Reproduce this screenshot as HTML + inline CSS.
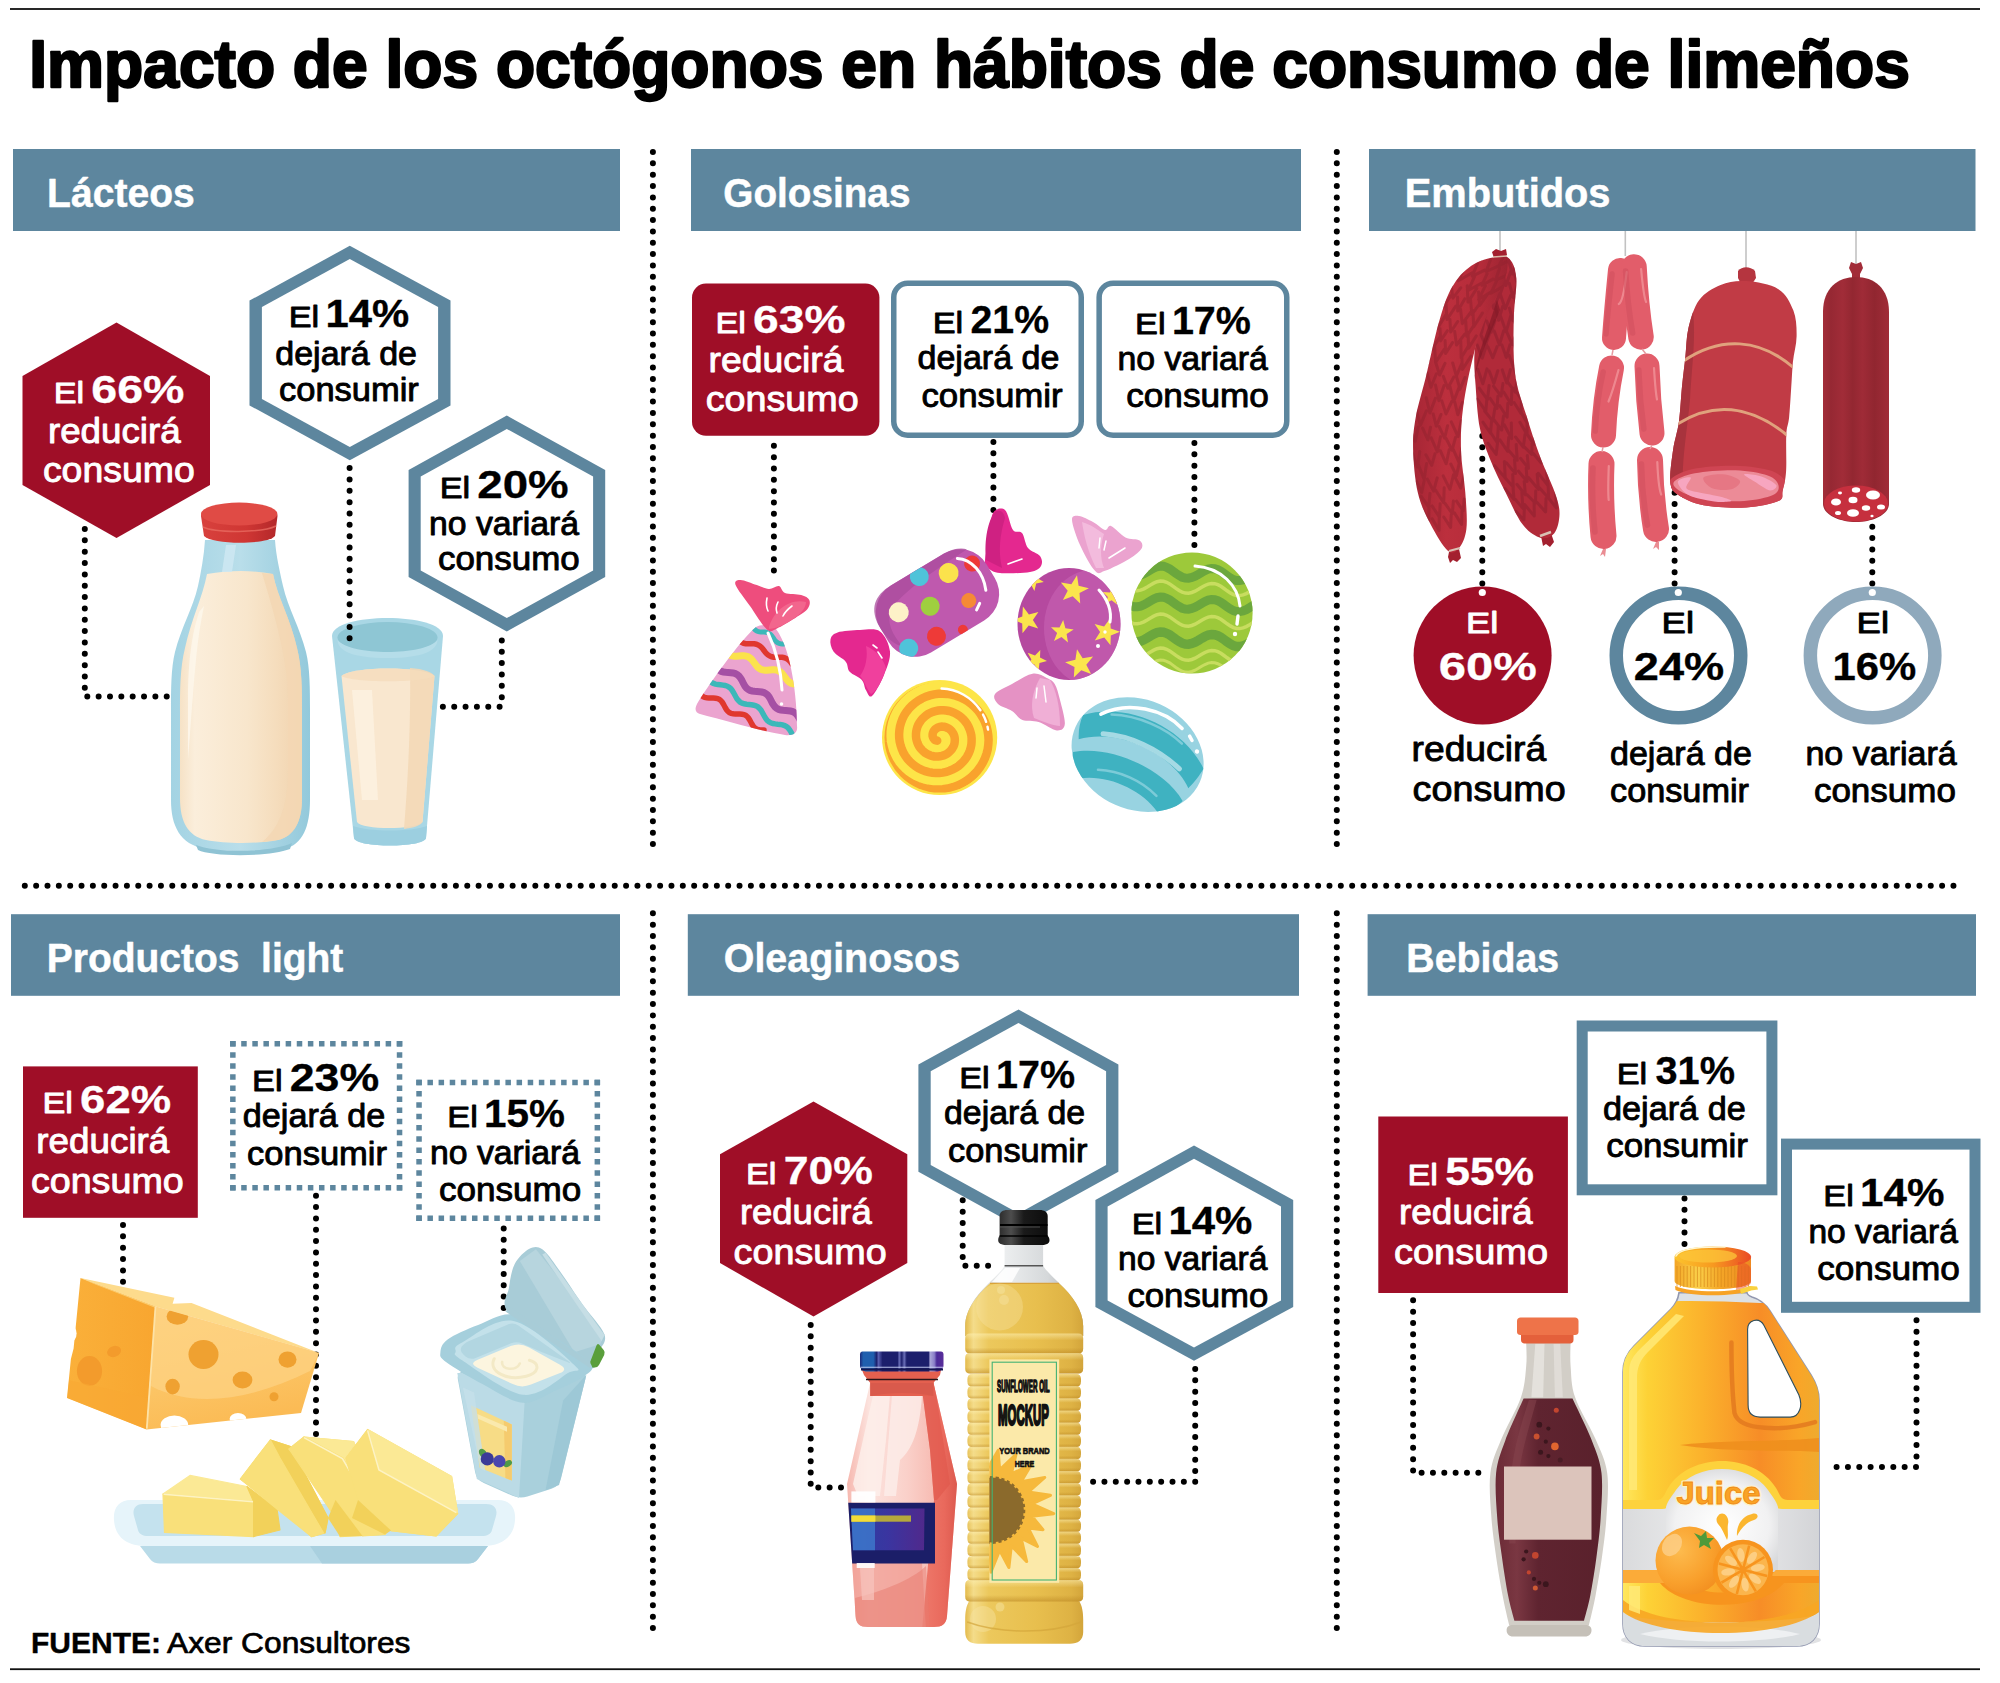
<!DOCTYPE html>
<html lang="es">
<head>
<meta charset="utf-8">
<title>Impacto de los octógonos en hábitos de consumo de limeños</title>
<style>
html,body{margin:0;padding:0;background:#fff;}
body{width:2000px;height:1683px;overflow:hidden;font-family:"Liberation Sans",sans-serif;}
svg{display:block;}
.dot{fill:none;stroke:#000;stroke-width:6;stroke-linecap:round;stroke-dasharray:0 11.345;}
</style>
</head>
<body>
<svg width="2000" height="1683" viewBox="0 0 2000 1683">
<rect width="2000" height="1683" fill="#fff"/>
<!-- rules -->
<g id="frame">
<rect x="10" y="8.1" width="1970" height="1.8" fill="#111"/>
<rect x="10" y="1668.3" width="1970" height="1.8" fill="#111"/>
<!-- section headers -->
<g fill="#5d869e">
<rect x="13" y="149" width="607" height="82"/>
<rect x="691" y="149" width="610" height="82"/>
<rect x="1369" y="149" width="606.5" height="82"/>
<rect x="11" y="914.2" width="609" height="81.6"/>
<rect x="687.8" y="914.2" width="611.2" height="81.6"/>
<rect x="1367.6" y="914.2" width="608.4" height="81.6"/>
</g>
<!-- dotted dividers -->
<path class="dot" d="M652.9 152V845"/>
<path class="dot" d="M1336.8 152V845"/>
<path class="dot" d="M652.9 913.3V1629"/>
<path class="dot" d="M1336.8 913.3V1629"/>
<path class="dot" d="M24.8 885.7H1955"/>
</g>
<g id="shapes">
<path class="dot" d="M84.8 529V688"/>
<path class="dot" d="M87.3 696.5H167"/>
<path class="dot" d="M501.8 640.4V698"/>
<path class="dot" d="M499.6 706.7H442"/>
<polygon points="116.5,322.5 210.0,376.0 210.0,485.0 116.5,538.0 22.5,485.0 22.5,376.0" fill="#9f0e27"/>
<polygon points="349.8,245.8 450.5,300.6 450.5,405.4 349.8,460.2 249.5,405.4 249.5,300.6" fill="#5d869e"/>
<polygon points="349.8,259.0 438.1,307.0 438.1,399.0 349.8,447.0 261.9,399.0 261.9,307.0" fill="#fff"/>
<polygon points="506.8,415.6 605.2,470.0 605.2,577.0 506.8,631.4 408.6,577.0 408.6,470.0" fill="#5d869e"/>
<polygon points="506.8,428.9 593.1,476.6 593.1,570.4 506.8,618.1 420.7,570.4 420.7,476.6" fill="#fff"/>
<path class="dot" d="M773.9 445.8V571.5"/>
<path class="dot" d="M993.4 442V511"/>
<path class="dot" d="M1194.4 443V546"/>
<rect x="692" y="283.6" width="187.4" height="152.2" rx="14" fill="#9f0e27"/>
<rect x="893.75" y="283.25" width="187.5" height="152" rx="14" fill="#fff" stroke="#5d869e" stroke-width="5.5"/>
<rect x="1099.15" y="283.25" width="187.6" height="152" rx="14" fill="#fff" stroke="#5d869e" stroke-width="5.5"/>
<path class="dot" d="M123 1225V1293"/>
<path class="dot" d="M316 1195.7V1442"/>
<path class="dot" d="M503.7 1228.5V1319"/>
<rect x="23" y="1066.4" width="174.8" height="151.4" fill="#9f0e27"/>
<g stroke="#5d869e" stroke-width="5.5" fill="none">
<path d="M230.10 1043.85H402.30 M230.10 1187.85H402.30" stroke-dasharray="5.50 5.61"/>
<path d="M232.85 1041.10V1190.60 M399.55 1041.10V1190.60" stroke-dasharray="5.50 5.58"/>
</g>
<g stroke="#5d869e" stroke-width="5.5" fill="none">
<path d="M416.30 1082.45H600.10 M416.30 1218.25H600.10" stroke-dasharray="5.50 5.64"/>
<path d="M419.05 1079.70V1221.00 M597.35 1079.70V1221.00" stroke-dasharray="5.50 5.82"/>
</g>
<path class="dot" d="M810.7 1325V1484"/>
<path class="dot" d="M818.3 1487.5H842"/>
<path class="dot" d="M962.7 1200.3V1258"/>
<path class="dot" d="M965.4 1265.7H989"/>
<path class="dot" d="M1195.2 1369V1472"/>
<path class="dot" d="M1195.2 1481.7H1092"/>
<polygon points="813.5,1101.4 907.3,1154.3 907.3,1263.0 813.5,1316.6 720.0,1263.0 720.0,1154.3" fill="#9f0e27"/>
<polygon points="1018.5,1009.5 1118.4,1064.6 1118.4,1171.7 1018.5,1226.8 918.4,1171.7 918.4,1064.6" fill="#5d869e"/>
<polygon points="1018.5,1022.9 1106.1,1071.2 1106.1,1165.1 1018.5,1213.4 930.7,1165.1 930.7,1071.2" fill="#fff"/>
<polygon points="1194.0,1145.5 1293.2,1200.0 1293.2,1307.0 1194.0,1360.7 1095.4,1307.0 1095.4,1200.0" fill="#5d869e"/>
<polygon points="1194.0,1158.7 1281.0,1206.5 1281.0,1300.4 1194.0,1347.5 1107.6,1300.4 1107.6,1206.5" fill="#fff"/>
<path class="dot" d="M1413.1 1300.3V1471"/>
<path class="dot" d="M1421.6 1472.8H1479.5"/>
<path class="dot" d="M1684.5 1198.5V1244"/>
<path class="dot" d="M1916.5 1320.3V1457"/>
<path class="dot" d="M1916 1466.9H1835"/>
<rect x="1378.3" y="1116.5" width="189.6" height="176.5" fill="#9f0e27"/>
<rect x="1582.2" y="1026.0" width="189.7" height="163.8" fill="#fff" stroke="#5d869e" stroke-width="11"/>
<rect x="1786.5" y="1144.1" width="188.5" height="163.2" fill="#fff" stroke="#5d869e" stroke-width="11"/>
</g>
<g id="lacteos-art">
<defs>
<linearGradient id="gMilkB" x1="0" x2="1" y1="0" y2="0">
<stop offset="0" stop-color="#f6e2c6"/><stop offset="0.12" stop-color="#fbeedb"/><stop offset="0.55" stop-color="#f8e6cc"/><stop offset="0.78" stop-color="#f5ddbd"/><stop offset="1" stop-color="#f1d3ae"/>
</linearGradient>
<linearGradient id="gGlassB" x1="0" x2="1" y1="0" y2="0">
<stop offset="0" stop-color="#a3d3e3"/><stop offset="0.5" stop-color="#b9deea"/><stop offset="1" stop-color="#93c9db"/>
</linearGradient>
<linearGradient id="gCap" x1="0" x2="1" y1="0" y2="0">
<stop offset="0" stop-color="#d8413d"/><stop offset="0.6" stop-color="#cf3633"/><stop offset="1" stop-color="#b3282a"/>
</linearGradient>
</defs>
<!-- bottle glass -->
<path d="M205 540 C204 556 201 572 198 586 C193 608 181 628 175 652 C171 668 171 690 171 710 V800 C171 826 180 844 205 849 C225 852 262 852 284 849 C303 845 310 826 310 800 V710 C310 690 310 668 306 652 C300 628 288 608 283 586 C280 572 276 556 275 540 Z" fill="url(#gGlassB)"/>
<!-- bottom shadow lip -->
<path d="M196 845 C215 853 270 853 292 843 L290 849 C270 857 212 857 198 850 Z" fill="#8fc3d4"/>
<!-- milk -->
<path d="M207 574 C230 570 252 570 273 574 C277 596 291 620 297 648 C302 668 302 690 302 712 V798 C302 822 294 836 278 840 C258 844 226 844 206 840 C188 836 180 822 180 798 V712 C180 690 180 668 185 648 C191 620 203 596 207 574 Z" fill="url(#gMilkB)"/>
<!-- milk right shade -->
<path d="M262 573 L273 574 C277 596 291 620 297 648 C302 668 302 690 302 712 V798 C302 822 294 836 278 840 L262 842 C282 826 288 800 288 770 V700 C288 660 276 620 262 573 Z" fill="#f3d7b4" opacity="0.85"/>
<!-- milk highlight -->
<path d="M199 612 C192 634 188 660 188 700 V760 C190 740 192 700 196 660 C198 640 200 626 204 606 Z" fill="#fdf6ea" opacity="0.9"/>
<!-- neck highlight -->
<path d="M226 545 L236 545 L232 572 L222 572 Z" fill="#cfe9f2" opacity="0.8"/>
<!-- cap -->
<path d="M201 516 C201 500 277.5 500 277.5 516 L275 536 C268 545 212 545 204 536 Z" fill="url(#gCap)"/>
<ellipse cx="239.2" cy="514" rx="38.2" ry="11.5" fill="#e04b45"/>
<path d="M203 527 C215 533 262 533 276 526" fill="none" stroke="#e86a60" stroke-width="1.5" opacity="0.8"/>
<!-- glass tumbler -->
<path d="M332 636 C332 612 443 612 443 636 L426 838 C424 848 356 848 354 838 Z" fill="#a9d7e5"/>
<path d="M426 838 C424 848 356 848 354 838 L353 826 C370 832 410 832 427 826 Z" fill="#9ccfe0"/>
<ellipse cx="387.5" cy="637.5" rx="50" ry="15.5" fill="#8ec6d4"/>
<path d="M337.5 640 C350 656 425 656 437.5 640 C437 650 425 658 387.5 658 C350 658 338 650 337.5 640 Z" fill="#b5dde9"/>
<!-- milk in glass -->
<path d="M341.5 676 C352 666 424 666 434.5 676 L422.5 822 C415 830 362 830 357 822 Z" fill="#f9e7cf"/>
<path d="M410 668 C424 669 432 672 434.5 676 L422.5 822 C420 826 412 828 404 829 C408 780 411 720 410 668 Z" fill="#f3d8b6" opacity="0.9"/>
<path d="M352 690 L372 690 L378 800 L362 800 Z" fill="#fdf3e4" opacity="0.7"/>
<path d="M341.5 676 C352 666 424 666 434.5 676 C424 683 352 683 341.5 676 Z" fill="#f5dcbc" opacity="0.8"/>
</g>
<g id="golosinas-art">
<defs><clipPath id="cpBag"><path d="M756 627 C740 640 705 690 697 704 C694 710 696 713 700 714 C730 722 765 732 785 735 C793 736 798 733 797 726 C797 700 792 650 776 629 C770 624 761 624 756 627Z"/></clipPath></defs>
<path d="M756 627 C740 640 705 690 697 704 C694 710 696 713 700 714 C730 722 765 732 785 735 C793 736 798 733 797 726 C797 700 792 650 776 629 C770 624 761 624 756 627Z" fill="#eba4cf"/>
<g clip-path="url(#cpBag)" fill="none" stroke-linecap="round">
<path d="M752.0 626.0 L753.0 627.4 L754.0 628.7 L755.1 629.9 L756.4 630.7 L757.8 631.4 L759.3 631.7 L761.0 631.9 L762.7 632.0 L764.4 632.1 L766.0 632.3 L767.6 632.6 L769.0 633.3 L770.2 634.1 L771.4 635.3 L772.4 636.6 L773.3 638.0 L774.3 639.4 L775.3 640.7 L776.4 641.9 L777.7 642.7 L779.1 643.4 L780.6 643.7 L782.3 643.9 L784.0 644.0" stroke="#3cb8b9" stroke-width="5"/>
<path d="M736.0 637.0 L737.3 638.7 L738.7 640.3 L740.2 641.6 L741.9 642.6 L743.7 643.3 L745.7 643.7 L747.8 643.8 L750.0 643.8 L752.2 643.7 L754.3 643.8 L756.3 644.2 L758.1 644.9 L759.8 645.9 L761.3 647.2 L762.7 648.8 L764.0 650.5 L765.3 652.2 L766.7 653.8 L768.2 655.1 L769.9 656.1 L771.7 656.8 L773.7 657.2 L775.8 657.3 L778.0 657.2 L780.2 657.2 L782.3 657.3 L784.3 657.7 L786.1 658.4 L787.8 659.4 L789.3 660.7 L790.7 662.3 L792.0 664.0" stroke="#e0372f" stroke-width="5.5"/>
<path d="M724.0 649.0 L725.4 650.9 L726.9 652.7 L728.5 654.1 L730.3 655.2 L732.3 655.9 L734.5 656.2 L736.8 656.2 L739.2 656.0 L741.6 655.8 L743.9 655.8 L746.1 656.1 L748.1 656.8 L749.9 657.9 L751.5 659.3 L753.0 661.1 L754.4 663.0 L755.8 664.9 L757.3 666.7 L758.9 668.1 L760.7 669.2 L762.7 669.9 L764.9 670.2 L767.2 670.2 L769.6 670.0 L772.0 669.8 L774.3 669.8 L776.5 670.1 L778.5 670.8 L780.3 671.9 L781.9 673.3 L783.4 675.1 L784.8 677.0 L786.2 678.9 L787.7 680.7 L789.3 682.1 L791.1 683.2 L793.1 683.9 L795.3 684.2 L797.6 684.2 L800.0 684.0" stroke="#fbe24c" stroke-width="7"/>
<path d="M714.0 663.0 L715.1 665.2 L716.3 667.3 L717.7 669.0 L719.4 670.4 L721.3 671.4 L723.5 672.0 L725.9 672.3 L728.3 672.5 L730.8 672.7 L733.2 673.0 L735.3 673.6 L737.3 674.6 L738.9 676.0 L740.3 677.7 L741.6 679.8 L742.7 682.0 L743.8 684.2 L745.0 686.3 L746.4 688.0 L748.1 689.4 L750.0 690.4 L752.2 691.0 L754.5 691.3 L757.0 691.5 L759.5 691.7 L761.8 692.0 L764.0 692.6 L765.9 693.6 L767.6 695.0 L769.0 696.7 L770.2 698.8 L771.3 701.0 L772.4 703.2 L773.7 705.3 L775.1 707.0 L776.7 708.4 L778.7 709.4 L780.8 710.0 L783.2 710.3 L785.7 710.5 L788.1 710.7 L790.5 711.0 L792.7 711.6 L794.6 712.6 L796.3 714.0 L797.7 715.7 L798.9 717.8 L800.0 720.0" stroke="#a550a4" stroke-width="7"/>
<path d="M706.0 675.0 L707.1 677.2 L708.4 679.2 L709.8 681.0 L711.5 682.4 L713.4 683.4 L715.5 684.1 L717.9 684.6 L720.3 684.8 L722.8 685.1 L725.1 685.5 L727.3 686.2 L729.2 687.3 L730.9 688.7 L732.3 690.5 L733.5 692.5 L734.7 694.7 L735.8 696.8 L737.0 698.9 L738.5 700.6 L740.1 702.1 L742.1 703.1 L744.2 703.8 L746.6 704.2 L749.0 704.5 L751.4 704.8 L753.8 705.2 L755.9 705.9 L757.9 706.9 L759.5 708.4 L761.0 710.1 L762.2 712.2 L763.3 714.3 L764.5 716.5 L765.7 718.5 L767.1 720.3 L768.8 721.7 L770.7 722.8 L772.9 723.5 L775.2 723.9 L777.7 724.2 L780.1 724.4 L782.5 724.9 L784.6 725.6 L786.5 726.6 L788.2 728.0 L789.6 729.8 L790.9 731.8 L792.0 734.0" stroke="#3cb8b9" stroke-width="5.5"/>
<path d="M698.0 690.0 L699.1 692.0 L700.2 693.8 L701.5 695.4 L703.0 696.6 L704.8 697.4 L706.8 697.8 L709.0 698.0 L711.2 698.0 L713.4 698.0 L715.6 698.2 L717.6 698.6 L719.4 699.4 L720.9 700.6 L722.2 702.2 L723.3 704.0 L724.4 706.0 L725.5 708.0 L726.6 709.8 L727.9 711.4 L729.4 712.6 L731.2 713.4 L733.2 713.8 L735.4 714.0 L737.6 714.0 L739.8 714.0 L742.0 714.2 L744.0 714.6 L745.8 715.4 L747.3 716.6 L748.6 718.2 L749.7 720.0 L750.8 722.0 L751.9 724.0 L753.0 725.8 L754.3 727.4 L755.8 728.6 L757.6 729.4 L759.6 729.8 L761.8 730.0 L764.0 730.0" stroke="#e0372f" stroke-width="5.5"/>
</g>
<path d="M768 633 C776 650 781 672 782 690" fill="none" stroke="#fff" stroke-width="3" stroke-linecap="round"/><circle cx="781.5" cy="704" r="1.8" fill="#fff"/>
<path d="M766.9 629.4C762.4 625.7 755.2 613.4 750.0 606.0C744.8 598.6 737.2 589.4 735.6 585.0C734.0 580.6 737.1 579.9 740.6 579.9C744.1 579.9 752.1 583.5 756.8 585.0C761.5 586.5 765.2 588.8 768.9 589.0C772.6 589.2 776.3 585.3 779.0 586.0C781.7 586.7 781.3 591.5 785.0 593.0C788.7 594.5 797.2 593.8 801.2 595.0C805.2 596.2 808.3 597.7 809.3 600.1C810.3 602.5 810.0 606.0 807.3 609.2C804.6 612.4 798.1 616.1 793.1 619.3C788.1 622.5 781.4 626.7 777.0 628.4C772.6 630.1 771.4 633.1 766.9 629.4Z" fill="#ee4d7d"/>
<path d="M769 627 C774 610 790 598 806 602 C806 608 800 615 793 619 C786 624 778 628 769 629Z" fill="#f2668d"/>
<g stroke="#fff" stroke-width="1.6" stroke-linecap="round" fill="none"><path d="M767 598 C766 603 766 607 768 611"/><path d="M778 602 C776 606 776 610 777 613"/><path d="M792 606 C788 609 785 612 783 616"/></g>
<path d="M985.0 560.0C985.3 554.5 988.7 542.8 990.0 535.0C991.3 527.2 990.5 517.2 993.0 513.0C995.5 508.8 1001.7 507.2 1005.0 510.0C1008.3 512.8 1010.2 526.2 1013.0 530.0C1015.8 533.8 1019.5 530.0 1022.0 533.0C1024.5 536.0 1025.0 544.2 1028.0 548.0C1031.0 551.8 1037.8 553.0 1040.0 556.0C1042.2 559.0 1042.7 563.3 1041.0 566.0C1039.3 568.7 1036.8 570.8 1030.0 572.0C1023.2 573.2 1007.0 573.7 1000.0 573.0C993.0 572.3 990.5 570.2 988.0 568.0C985.5 565.8 984.7 565.5 985.0 560.0Z" fill="#e4288f"/>
<path d="M986 560 C984 540 988 520 995 512 C1000 509 1004 512 1005 518 C1000 535 998 550 1002 568 Z" fill="#cf2182"/>
<path d="M1008 564 L1022 559" stroke="#fff" stroke-width="1.6" stroke-linecap="round"/>
<path d="M830.5 639.5C831.2 636.3 832.7 634.0 837.6 632.4C842.5 630.8 852.9 630.2 860.0 630.0C867.1 629.8 875.0 627.8 880.0 631.4C885.0 635.0 889.3 644.3 890.0 651.6C890.7 658.9 887.0 667.6 884.0 675.0C881.0 682.4 875.0 693.5 872.0 696.0C869.0 698.5 867.6 692.7 865.9 690.0C864.2 687.3 864.5 683.0 861.8 680.0C859.1 677.0 852.4 674.8 849.7 671.8C847.0 668.8 848.4 665.1 845.7 661.7C843.0 658.3 836.0 655.3 833.5 651.6C831.0 647.9 829.8 642.7 830.5 639.5Z" fill="#e4288f"/>
<path d="M866 646 C876 650 884 660 886 668 C882 682 876 692 871 694 C866 688 864 680 860 676 C866 668 868 656 866 646Z" fill="#f0409d"/>
<path d="M873 645 L877 648 M878 652 L882 658" stroke="#fff" stroke-width="1.6" stroke-linecap="round"/>
<g transform="translate(937.5 603) rotate(-31)">
<rect x="-62" y="-39" width="124" height="78" rx="31" fill="#bf59ae"/>
<path d="M-62 -8 C-62 -30 -50 -39 -31 -39 L31 -39 C40 -39 48 -36 53 -31 C20 -30 -20 -28 -40 -20 C-52 -14 -56 0 -52 20 C-58 14 -62 4 -62 -8Z" fill="#a94c9c" opacity="0.75"/>
<defs><clipPath id="cpC2"><rect x="-62" y="-39" width="124" height="78" rx="31"/></clipPath></defs><g clip-path="url(#cpC2)">
<circle cx="-2" cy="-32" r="9.5" fill="#4fc3d9"/>
<circle cx="-38" cy="-12" r="10" fill="#fdf2c8"/>
<circle cx="25" cy="-20" r="10" fill="#fbe24c"/>
<circle cx="-8" cy="-1" r="9.5" fill="#9fcf3f"/>
<circle cx="-48" cy="24" r="9.5" fill="#4fc3d9"/>
<circle cx="-18" cy="28" r="9.5" fill="#ee3a38"/>
<circle cx="50" cy="-16" r="8" fill="#ee3a38"/>
<circle cx="28" cy="14" r="7.5" fill="#f58a36"/>
<circle cx="8" cy="36" r="5" fill="#ee3a38"/>
</g>
<path d="M40 -28 C52 -20 55 -2 48 14" fill="none" stroke="#fff" stroke-width="3" stroke-linecap="round"/><path d="M36 22 L30 26" stroke="#fff" stroke-width="3" stroke-linecap="round"/>
</g>
<circle cx="939.6" cy="737.5" r="57.6" fill="#fde548"/>
<defs><clipPath id="cpC3"><circle cx="939.6" cy="737.5" r="55.1"/></clipPath></defs>
<path d="M937.2 740.7 L936.8 740.6 L936.3 740.5 L935.8 740.3 L935.3 740.1 L934.8 739.8 L934.4 739.4 L934.0 739.0 L933.6 738.5 L933.3 737.9 L933.0 737.3 L932.8 736.6 L932.6 735.9 L932.6 735.2 L932.6 734.5 L932.7 733.7 L932.9 732.9 L933.2 732.1 L933.6 731.3 L934.0 730.6 L934.6 729.9 L935.3 729.2 L936.0 728.6 L936.8 728.1 L937.7 727.6 L938.7 727.2 L939.7 726.9 L940.8 726.7 L941.9 726.6 L943.1 726.7 L944.2 726.8 L945.4 727.1 L946.5 727.5 L947.7 728.0 L948.8 728.6 L949.8 729.3 L950.8 730.2 L951.7 731.2 L952.5 732.3 L953.2 733.4 L953.8 734.7 L954.3 736.0 L954.6 737.4 L954.8 738.9 L954.8 740.4 L954.7 741.9 L954.5 743.4 L954.1 744.9 L953.5 746.4 L952.7 747.8 L951.8 749.2 L950.8 750.5 L949.6 751.7 L948.3 752.8 L946.8 753.8 L945.3 754.7 L943.6 755.4 L941.8 755.9 L940.0 756.3 L938.1 756.5 L936.2 756.5 L934.3 756.4 L932.4 756.0 L930.4 755.5 L928.6 754.7 L926.8 753.8 L925.0 752.7 L923.4 751.4 L921.9 749.9 L920.5 748.3 L919.3 746.6 L918.2 744.7 L917.4 742.7 L916.7 740.6 L916.2 738.4 L916.0 736.2 L916.0 733.9 L916.2 731.6 L916.7 729.3 L917.3 727.1 L918.2 724.9 L919.4 722.7 L920.8 720.7 L922.3 718.8 L924.1 717.1 L926.1 715.5 L928.2 714.0 L930.5 712.8 L932.9 711.8 L935.4 711.1 L938.1 710.5 L940.7 710.3 L943.5 710.2 L946.2 710.5 L948.9 711.0 L951.6 711.8 L954.2 712.8 L956.8 714.1 L959.2 715.7 L961.4 717.4 L963.5 719.5 L965.4 721.7 L967.1 724.1 L968.5 726.7 L969.7 729.4 L970.6 732.3 L971.3 735.2 L971.6 738.2 L971.6 741.3 L971.4 744.4 L970.8 747.5 L969.9 750.5 L968.7 753.4 L967.2 756.3 L965.4 759.0 L963.4 761.5 L961.0 763.8 L958.5 766.0 L955.7 767.8 L952.7 769.5 L949.5 770.8 L946.3 771.9 L942.8 772.6 L939.4 773.0 L935.8 773.0 L932.3 772.8 L928.7 772.2 L925.3 771.2 L921.9 769.9 L918.6 768.3 L915.5 766.3 L912.6 764.1 L909.9 761.6 L907.4 758.8 L905.2 755.7 L903.3 752.5 L901.8 749.0 L900.6 745.4 L899.7 741.7 L899.2 737.9 L899.1 734.1 L899.4 730.2 L900.0 726.3 L901.1 722.5 L902.5 718.8 L904.3 715.2 L906.5 711.8 L909.0 708.6 L911.8 705.7 L914.9 703.0 L918.4 700.6 L922.0 698.5 L925.9 696.7 L929.9 695.4 L934.1 694.4 L938.4 693.8 L942.7 693.7 L947.1 693.9 L951.4 694.6 L955.7 695.7 L959.9 697.2 L963.9 699.1 L967.8 701.3 L971.4 704.0 L974.7 707.0 L977.8 710.3 L980.5 714.0 L982.9 717.9 L984.9 722.0 L986.5 726.3 L987.6 730.8 L988.3 735.4 L988.6 740.0 L988.3 744.7 L987.7 749.4 L986.5 753.9 L984.9 758.4 L982.8 762.8 L980.3 766.9 L977.4 770.8 L974.1 774.4 L970.5 777.8 L966.5 780.7 L962.2 783.3 L957.7 785.5 L952.9 787.2 L947.9 788.5 L942.9 789.3 L937.7 789.6 L932.5 789.5 L927.4 788.8 L922.3 787.6 L917.3 786.0 L912.5 783.9 L907.9 781.3 L903.5 778.2 L899.5 774.8 L895.8 771.0 L892.4 766.8 L889.5 762.3 L887.1 757.5 L885.1 752.5 L883.6 747.3 L882.6 741.9 L882.2 736.5 L882.3 731.0 L883.0 725.5 L884.2 720.1 L885.9 714.9 L888.2 709.7 L890.9 704.8 L894.2 700.2 L897.9 695.9 L902.1 691.9 L906.6 688.3 L911.5 685.2 L916.7 682.6 L922.2 680.4 L927.9 678.8 L933.7 677.7 L939.7 677.1" fill="none" stroke="#f9a22d" stroke-width="8.5" stroke-linecap="round" clip-path="url(#cpC3)"/>
<path d="M941.6 688.5 A 49 49 0 0 1 977.6 768.5" fill="none" stroke="#fff" stroke-width="2.4" stroke-linecap="round" stroke-dasharray="46 5 8 5 3 100"/>
<path d="M1095.0 570.8C1090.8 566.5 1083.8 553.5 1080.0 545.0C1076.2 536.5 1072.2 524.8 1072.0 520.0C1071.8 515.2 1075.5 515.7 1079.0 516.0C1082.5 516.3 1088.7 519.7 1093.0 522.0C1097.3 524.3 1102.0 529.3 1105.0 530.0C1108.0 530.7 1107.6 524.8 1111.0 526.0C1114.4 527.2 1120.7 535.1 1125.5 537.5C1130.3 539.9 1136.9 538.6 1139.6 540.5C1142.3 542.4 1143.3 545.6 1141.6 548.6C1139.9 551.6 1135.6 555.0 1129.5 558.7C1123.4 562.4 1110.8 568.8 1105.0 570.8C1099.2 572.8 1099.2 575.1 1095.0 570.8Z" fill="#eba3cf"/>
<path d="M1096 568 C1088 552 1084 536 1082 522 C1090 524 1098 530 1104 534 C1100 546 1100 558 1104 568Z" fill="#f4bede" opacity="0.9"/>
<path d="M1100 538 L1099 548 M1106 541 L1104 550 M1125 548 L1109 558" stroke="#fff" stroke-width="1.5" stroke-linecap="round"/>
<path d="M1046.7 677.9C1043.0 676.2 1038.3 672.8 1032.5 673.8C1026.7 674.8 1018.2 680.6 1012.0 684.0C1005.8 687.4 997.3 690.7 995.0 694.0C992.7 697.3 995.2 701.2 998.0 704.0C1000.8 706.8 1007.9 708.3 1012.0 711.0C1016.1 713.7 1018.0 718.2 1022.4 720.0C1026.8 721.8 1032.9 720.3 1038.6 722.0C1044.3 723.7 1052.4 730.1 1056.8 730.4C1061.2 730.7 1064.3 729.1 1064.8 724.0C1065.3 718.9 1061.7 706.7 1060.0 700.0C1058.3 693.3 1056.9 687.7 1054.7 684.0C1052.5 680.3 1050.4 679.6 1046.7 677.9Z" fill="#e592c4"/>
<path d="M1040 678 C1032 692 1030 706 1034 718 C1044 722 1054 726 1060 726 C1060 706 1056 690 1050 680Z" fill="#f0afd6"/>
<path d="M1037 688 L1036 698 M1044 686 L1046 702" stroke="#fff" stroke-width="1.5" stroke-linecap="round"/>
<ellipse cx="1069" cy="624" rx="51.5" ry="56" fill="#b5499f"/>
<defs><clipPath id="cpC4"><ellipse cx="1069" cy="624" rx="51.5" ry="56"/></clipPath></defs><g clip-path="url(#cpC4)">
<ellipse cx="1092" cy="628" rx="48" ry="58" fill="#c560b1" opacity="0.7"/>
<polygon points="1077.0,575.3 1078.6,585.7 1088.9,588.3 1079.5,593.1 1080.2,603.6 1072.7,596.2 1062.9,600.1 1067.7,590.7 1060.9,582.6 1071.4,584.3" fill="#fbe54d"/>
<polygon points="1038.3,570.3 1037.2,578.0 1043.8,582.0 1036.2,583.4 1034.4,590.9 1030.8,584.1 1023.1,584.7 1028.5,579.1 1025.4,572.0 1032.4,575.4" fill="#fbe54d"/>
<polygon points="1022.9,606.6 1028.9,614.4 1038.4,611.9 1032.9,620.1 1038.2,628.4 1028.7,625.6 1022.5,633.3 1022.2,623.4 1013.0,619.8 1022.3,616.5" fill="#fbe54d"/>
<polygon points="1063.2,620.1 1065.4,628.2 1073.7,629.4 1066.6,634.0 1068.0,642.4 1061.5,637.0 1054.0,641.0 1057.1,633.1 1051.0,627.2 1059.5,627.6" fill="#fbe54d"/>
<polygon points="1110.1,618.6 1110.7,628.5 1120.0,631.8 1110.8,635.4 1110.5,645.3 1104.3,637.6 1094.8,640.4 1100.1,632.1 1094.6,623.9 1104.1,626.4" fill="#fbe54d"/>
<polygon points="1040.3,649.9 1040.0,657.6 1047.0,660.9 1039.5,663.0 1038.5,670.7 1034.2,664.3 1026.6,665.7 1031.4,659.6 1027.7,652.8 1035.0,655.5" fill="#fbe54d"/>
<polygon points="1077.0,649.3 1082.6,658.3 1093.1,656.6 1086.3,664.7 1091.1,674.1 1081.3,670.2 1073.8,677.6 1074.5,667.1 1065.1,662.3 1075.4,659.7" fill="#fbe54d"/>
<polygon points="1113.0,586.0 1114.8,592.9 1121.8,593.9 1115.8,597.7 1117.0,604.6 1111.6,600.2 1105.3,603.5 1107.9,596.9 1102.8,592.0 1109.9,592.4" fill="#fbe54d"/>
</g>
<path d="M1099 590 C1108 600 1112 610 1110 622" fill="none" stroke="#fff" stroke-width="3" stroke-linecap="round"/><circle cx="1105" cy="632" r="1.7" fill="#fff"/><circle cx="1098" cy="646" r="2" fill="#fff"/>
<circle cx="1192" cy="613" r="60.6" fill="#9dc93a"/>
<defs><clipPath id="cpC5"><circle cx="1192" cy="613" r="60.6"/></clipPath></defs><g clip-path="url(#cpC5)" fill="none">
<path d="M1127.9 573.1 L1131.0 574.8 L1134.1 575.7 L1137.3 575.8 L1140.6 575.1 L1143.9 573.8 L1147.2 571.9 L1150.5 569.9 L1153.7 568.1 L1157.0 566.7 L1160.3 566.1 L1163.5 566.3 L1166.6 567.3 L1169.7 568.9 L1172.8 571.1 L1175.9 573.4 L1179.1 575.5 L1182.2 577.2 L1185.3 578.1 L1188.5 578.2 L1191.8 577.5 L1195.1 576.2 L1198.4 574.3 L1201.7 572.3 L1204.9 570.5 L1208.2 569.1 L1211.5 568.5 L1214.7 568.7 L1217.8 569.7 L1220.9 571.3 L1224.0 573.5 L1227.1 575.8 L1230.3 577.9 L1233.4 579.6 L1236.5 580.5 L1239.7 580.6 L1243.0 579.9 L1246.3 578.6 L1249.6 576.7 L1252.9 574.7 L1256.1 572.9" stroke="#6ba73d" stroke-width="9"/>
<path d="M1127.9 588.1 L1131.0 589.8 L1134.1 590.7 L1137.3 590.8 L1140.6 590.1 L1143.9 588.8 L1147.2 586.9 L1150.5 584.9 L1153.7 583.1 L1157.0 581.7 L1160.3 581.1 L1163.5 581.3 L1166.6 582.3 L1169.7 583.9 L1172.8 586.1 L1175.9 588.4 L1179.1 590.5 L1182.2 592.2 L1185.3 593.1 L1188.5 593.2 L1191.8 592.5 L1195.1 591.2 L1198.4 589.3 L1201.7 587.3 L1204.9 585.5 L1208.2 584.1 L1211.5 583.5 L1214.7 583.7 L1217.8 584.7 L1220.9 586.3 L1224.0 588.5 L1227.1 590.8 L1230.3 592.9 L1233.4 594.6 L1236.5 595.5 L1239.7 595.6 L1243.0 594.9 L1246.3 593.6 L1249.6 591.7 L1252.9 589.7 L1256.1 587.9" stroke="#c8dd5f" stroke-width="3.5"/>
<path d="M1127.9 604.1 L1131.0 605.8 L1134.1 606.7 L1137.3 606.8 L1140.6 606.1 L1143.9 604.8 L1147.2 602.9 L1150.5 600.9 L1153.7 599.1 L1157.0 597.7 L1160.3 597.1 L1163.5 597.3 L1166.6 598.3 L1169.7 599.9 L1172.8 602.1 L1175.9 604.4 L1179.1 606.5 L1182.2 608.2 L1185.3 609.1 L1188.5 609.2 L1191.8 608.5 L1195.1 607.2 L1198.4 605.3 L1201.7 603.3 L1204.9 601.5 L1208.2 600.1 L1211.5 599.5 L1214.7 599.7 L1217.8 600.7 L1220.9 602.3 L1224.0 604.5 L1227.1 606.8 L1230.3 608.9 L1233.4 610.6 L1236.5 611.5 L1239.7 611.6 L1243.0 610.9 L1246.3 609.6 L1249.6 607.7 L1252.9 605.7 L1256.1 603.9" stroke="#6ba73d" stroke-width="9"/>
<path d="M1127.9 621.1 L1131.0 622.8 L1134.1 623.7 L1137.3 623.8 L1140.6 623.1 L1143.9 621.8 L1147.2 619.9 L1150.5 617.9 L1153.7 616.1 L1157.0 614.7 L1160.3 614.1 L1163.5 614.3 L1166.6 615.3 L1169.7 616.9 L1172.8 619.1 L1175.9 621.4 L1179.1 623.5 L1182.2 625.2 L1185.3 626.1 L1188.5 626.2 L1191.8 625.5 L1195.1 624.2 L1198.4 622.3 L1201.7 620.3 L1204.9 618.5 L1208.2 617.1 L1211.5 616.5 L1214.7 616.7 L1217.8 617.7 L1220.9 619.3 L1224.0 621.5 L1227.1 623.8 L1230.3 625.9 L1233.4 627.6 L1236.5 628.5 L1239.7 628.6 L1243.0 627.9 L1246.3 626.6 L1249.6 624.7 L1252.9 622.7 L1256.1 620.9" stroke="#c8dd5f" stroke-width="3.5"/>
<path d="M1127.9 639.1 L1131.0 640.8 L1134.1 641.7 L1137.3 641.8 L1140.6 641.1 L1143.9 639.8 L1147.2 637.9 L1150.5 635.9 L1153.7 634.1 L1157.0 632.7 L1160.3 632.1 L1163.5 632.3 L1166.6 633.3 L1169.7 634.9 L1172.8 637.1 L1175.9 639.4 L1179.1 641.5 L1182.2 643.2 L1185.3 644.1 L1188.5 644.2 L1191.8 643.5 L1195.1 642.2 L1198.4 640.3 L1201.7 638.3 L1204.9 636.5 L1208.2 635.1 L1211.5 634.5 L1214.7 634.7 L1217.8 635.7 L1220.9 637.3 L1224.0 639.5 L1227.1 641.8 L1230.3 643.9 L1233.4 645.6 L1236.5 646.5 L1239.7 646.6 L1243.0 645.9 L1246.3 644.6 L1249.6 642.7 L1252.9 640.7 L1256.1 638.9" stroke="#6ba73d" stroke-width="9.5"/>
<path d="M1127.9 655.1 L1131.0 656.8 L1134.1 657.7 L1137.3 657.8 L1140.6 657.1 L1143.9 655.8 L1147.2 653.9 L1150.5 651.9 L1153.7 650.1 L1157.0 648.7 L1160.3 648.1 L1163.5 648.3 L1166.6 649.3 L1169.7 650.9 L1172.8 653.1 L1175.9 655.4 L1179.1 657.5 L1182.2 659.2 L1185.3 660.1 L1188.5 660.2 L1191.8 659.5 L1195.1 658.2 L1198.4 656.3 L1201.7 654.3 L1204.9 652.5 L1208.2 651.1 L1211.5 650.5 L1214.7 650.7 L1217.8 651.7 L1220.9 653.3 L1224.0 655.5 L1227.1 657.8 L1230.3 659.9 L1233.4 661.6 L1236.5 662.5 L1239.7 662.6 L1243.0 661.9 L1246.3 660.6 L1249.6 658.7 L1252.9 656.7 L1256.1 654.9" stroke="#c8dd5f" stroke-width="3.5"/>
<path d="M1127.9 667.1 L1131.0 668.8 L1134.1 669.7 L1137.3 669.8 L1140.6 669.1 L1143.9 667.8 L1147.2 665.9 L1150.5 663.9 L1153.7 662.1 L1157.0 660.7 L1160.3 660.1 L1163.5 660.3 L1166.6 661.3 L1169.7 662.9 L1172.8 665.1 L1175.9 667.4 L1179.1 669.5 L1182.2 671.2 L1185.3 672.1 L1188.5 672.2 L1191.8 671.5 L1195.1 670.2 L1198.4 668.3 L1201.7 666.3 L1204.9 664.5 L1208.2 663.1 L1211.5 662.5 L1214.7 662.7 L1217.8 663.7 L1220.9 665.3 L1224.0 667.5 L1227.1 669.8 L1230.3 671.9 L1233.4 673.6 L1236.5 674.5 L1239.7 674.6 L1243.0 673.9 L1246.3 672.6 L1249.6 670.7 L1252.9 668.7 L1256.1 666.9" stroke="#c8dd5f" stroke-width="3"/>
</g>
<path d="M1195 566 C1222 568 1238 586 1240 606" fill="none" stroke="#fff" stroke-width="3" stroke-linecap="round"/><path d="M1238 616 L1237 624" stroke="#fff" stroke-width="3.4" stroke-linecap="round"/><circle cx="1235" cy="634" r="2.2" fill="#fff"/>
<g transform="translate(1137.6 754.6) rotate(24)">
<ellipse cx="0" cy="0" rx="68" ry="55" fill="#98d3e1"/>
<defs><clipPath id="cpC6"><ellipse cx="0" cy="0" rx="68" ry="55"/></clipPath></defs><g clip-path="url(#cpC6)">
<path d="M-66 -14 C-30 -44 30 -44 66 -14 C64 0 62 4 60 10 C30 -16 -30 -16 -60 10 C-64 2 -66 -6 -66 -14Z" fill="#3fb2c1"/>
<path d="M-60 24 C-30 2 30 2 60 24 C56 34 50 42 44 46 C20 30 -20 30 -44 46 C-52 40 -58 32 -60 24Z" fill="#3fb2c1"/>
<path d="M-40 -26 C-15 -36 15 -36 36 -28" fill="none" stroke="#7ccbd8" stroke-width="2.5" stroke-linecap="round"/>
<path d="M-40 -5 C-15 -14 15 -14 44 -4" fill="none" stroke="#bfe4ec" stroke-width="5" stroke-linecap="round" opacity="0.8"/>
<path d="M-30 30 C-10 22 14 22 34 30" fill="none" stroke="#7ccbd8" stroke-width="2.5" stroke-linecap="round"/>
</g>
<path d="M-50 -22 C-30 -46 6 -52 30 -42" fill="none" stroke="#fff" stroke-width="3.5" stroke-linecap="round"/><path d="M40 -38 L44 -35" stroke="#fff" stroke-width="3.5" stroke-linecap="round"/><circle cx="53" cy="-27" r="2.2" fill="#fff"/>
</g>
</g>
<g id="embutidos-art">
<path class="dot" d="M1482.3 583.5V425"/><path class="dot" d="M1674.6 583.5V492"/><path class="dot" d="M1872.3 583.5V523"/>
<g stroke="#c2c2c2" stroke-width="1.6"><path d="M1500 231V252"/><path d="M1625.3 231V256"/><path d="M1746 231V274"/><path d="M1856 231V266"/></g>
<defs><linearGradient id="gS1" x1="0" x2="1"><stop offset="0" stop-color="#a62635"/><stop offset="0.35" stop-color="#bc2f3d"/><stop offset="0.7" stop-color="#b62c3a"/><stop offset="1" stop-color="#9d2432"/></linearGradient>
<clipPath id="cpS1r"><path d="M1497.0 257.1C1500.9 253.9 1506.6 255.7 1509.8 259.2C1513.0 262.8 1515.6 268.2 1516.3 278.5C1516.9 288.8 1513.9 305.2 1513.7 321.3C1513.5 337.3 1513.0 358.7 1515.2 374.8C1517.4 390.8 1522.9 404.0 1527.0 417.6C1531.1 431.1 1535.2 443.6 1539.8 456.1C1544.4 468.6 1551.5 482.9 1554.8 492.5C1558.1 502.1 1559.6 507.1 1559.5 513.9C1559.4 520.7 1557.5 529.2 1554.3 533.2C1551.2 537.1 1546.1 539.3 1540.9 537.9C1535.6 536.4 1528.6 532.2 1522.7 524.6C1516.8 517.0 1510.9 503.2 1505.6 492.5C1500.2 481.8 1494.9 471.1 1490.6 460.4C1486.3 449.7 1482.4 440.8 1479.9 428.3C1477.4 415.8 1476.5 398.0 1475.6 385.5C1474.7 373.0 1473.8 364.8 1474.5 353.4C1475.2 342.0 1477.9 329.5 1479.9 317.0C1481.8 304.5 1483.4 288.5 1486.3 278.5C1489.2 268.5 1493.1 260.3 1497.0 257.1Z"/></clipPath><clipPath id="cpS1l"><path d="M1497.0 256.7C1491.0 257.4 1478.8 260.6 1471.3 265.7C1463.8 270.7 1457.4 277.8 1452.1 287.1C1446.7 296.3 1443.5 306.7 1439.2 321.3C1434.9 335.9 1430.3 358.7 1426.4 374.8C1422.5 390.8 1417.9 405.1 1415.7 417.6C1413.5 430.1 1412.8 437.2 1413.1 449.7C1413.5 462.2 1414.9 480.0 1417.8 492.5C1420.7 505.0 1425.7 514.9 1430.7 524.6C1435.7 534.3 1443.1 546.8 1447.8 550.7C1452.5 554.6 1455.8 551.8 1458.9 548.1C1462.0 544.5 1465.3 538.1 1466.4 528.9C1467.5 519.6 1466.2 505.7 1465.3 492.5C1464.4 479.3 1461.4 464.0 1461.0 449.7C1460.7 435.4 1461.0 422.9 1463.2 406.9C1465.3 390.8 1470.0 368.4 1473.9 353.4C1477.7 338.4 1481.4 328.8 1486.3 317.0C1491.2 305.2 1499.9 292.1 1503.4 282.8C1506.9 273.5 1508.3 265.7 1507.3 261.4C1506.2 257.0 1503.0 256.0 1497.0 256.7Z"/></clipPath></defs>
<path d="M1492 252 L1496 249 L1501 251 L1506 249 L1507 255 L1502 259 L1494 258Z" fill="#a3202f"/>
<path d="M1449 552 L1459 549 L1461 558 L1457 562 L1453 560 L1450 563 L1448 557Z" fill="#a3202f"/>
<path d="M1541 536 L1551 533 L1554 542 L1550 547 L1546 544 L1543 546Z" fill="#a3202f"/>
<path d="M1497.0 257.1C1500.9 253.9 1506.6 255.7 1509.8 259.2C1513.0 262.8 1515.6 268.2 1516.3 278.5C1516.9 288.8 1513.9 305.2 1513.7 321.3C1513.5 337.3 1513.0 358.7 1515.2 374.8C1517.4 390.8 1522.9 404.0 1527.0 417.6C1531.1 431.1 1535.2 443.6 1539.8 456.1C1544.4 468.6 1551.5 482.9 1554.8 492.5C1558.1 502.1 1559.6 507.1 1559.5 513.9C1559.4 520.7 1557.5 529.2 1554.3 533.2C1551.2 537.1 1546.1 539.3 1540.9 537.9C1535.6 536.4 1528.6 532.2 1522.7 524.6C1516.8 517.0 1510.9 503.2 1505.6 492.5C1500.2 481.8 1494.9 471.1 1490.6 460.4C1486.3 449.7 1482.4 440.8 1479.9 428.3C1477.4 415.8 1476.5 398.0 1475.6 385.5C1474.7 373.0 1473.8 364.8 1474.5 353.4C1475.2 342.0 1477.9 329.5 1479.9 317.0C1481.8 304.5 1483.4 288.5 1486.3 278.5C1489.2 268.5 1493.1 260.3 1497.0 257.1Z" fill="#b12a39"/>
<g clip-path="url(#cpS1r)"><path d="M1511.7 248.3L1507.0 262.2L1503.2 248.0 M1499.8 246.8L1495.8 261.9L1492.6 246.6 M1523.5 249.3L1517.7 262.5L1512.7 249.0 M1489.9 249.9L1484.9 261.5L1480.4 249.7 M1517.4 259.4L1512.4 274.0L1508.3 259.2 M1506.9 259.9L1501.5 273.7L1497.0 259.6 M1494.7 260.1L1489.1 273.3L1484.4 259.8 M1511.2 270.0L1505.9 285.5L1501.5 269.8 M1498.2 269.6L1493.4 285.1L1489.4 269.3 M1522.1 273.9L1517.9 285.8L1514.4 273.6 M1488.8 272.5L1483.7 284.9L1479.3 272.2 M1517.8 283.6L1513.1 297.4L1509.3 283.3 M1504.5 281.5L1499.2 297.0L1494.8 281.2 M1491.2 284.9L1486.1 296.6L1481.6 284.7 M1510.9 295.1L1505.3 308.8L1500.5 294.8 M1499.2 294.8L1493.7 308.5L1489.0 294.5 M1523.5 293.4L1517.9 309.2L1513.3 293.1 M1517.1 308.4L1512.9 320.7L1509.4 308.1 M1502.7 306.4L1498.6 320.3L1495.3 306.1 M1510.8 315.7L1506.1 331.8L1500.5 316.0 M1495.0 320.7L1491.2 332.2L1486.7 321.0 M1521.5 318.3L1517.9 331.4L1513.6 318.5 M1484.9 317.1L1481.7 332.5L1477.5 317.3 M1517.0 331.4L1512.2 344.4L1506.6 331.7 M1503.7 330.7L1499.4 344.8L1494.2 331.0 M1490.3 331.5L1485.4 345.2L1479.7 331.9 M1509.9 344.8L1506.3 357.4L1501.9 345.0 M1497.1 346.6L1492.8 357.8L1487.9 346.9 M1521.2 342.8L1518.0 357.0L1513.9 343.1 M1486.6 344.7L1482.3 358.1L1477.2 345.0 M1518.9 355.1L1514.5 370.0L1509.2 355.4 M1510.4 369.6L1506.7 383.0L1502.3 369.9 M1497.8 370.7L1493.9 383.4L1489.2 371.0 M1522.9 369.6L1519.1 382.6L1514.6 369.9 M1487.0 368.9L1482.8 383.8L1477.8 369.2 M1517.1 379.1L1515.3 392.2L1507.3 381.7 M1502.9 383.6L1501.1 396.0L1493.5 386.1 M1489.1 385.5L1487.5 399.6L1479.2 388.1 M1511.8 389.8L1511.4 404.6L1503.7 392.0 M1497.9 396.2L1497.0 408.5L1490.1 398.3 M1523.8 385.6L1522.8 401.6L1514.1 388.2 M1487.1 396.4L1485.8 411.4L1477.3 399.0 M1521.5 400.5L1521.0 413.5L1514.1 402.5 M1507.8 403.5L1507.1 417.2L1499.7 405.7 M1494.9 408.3L1492.8 421.0L1484.7 411.0 M1503.5 416.0L1501.7 430.1L1493.1 418.7 M1527.5 408.0L1527.4 423.3L1519.7 410.0 M1491.7 419.9L1490.5 433.1L1482.9 422.2 M1527.1 420.3L1527.1 434.7L1519.9 422.2 M1511.3 422.9L1511.7 438.8L1504.2 424.8 M1498.3 426.3L1497.3 442.7L1488.3 429.0 M1525.0 434.4L1523.3 447.2L1515.5 437.0 M1508.7 437.5L1507.7 451.3L1499.9 439.9 M1534.9 431.4L1533.9 444.3L1526.7 433.6 M1497.8 440.7L1496.2 454.4L1488.1 443.3 M1532.0 441.5L1531.8 454.4L1522.6 445.3 M1516.2 444.4L1517.2 460.3L1506.8 448.2 M1527.3 455.5L1528.5 468.3L1520.5 458.3 M1514.5 459.6L1515.5 473.6L1506.5 462.9 M1540.4 450.9L1541.3 463.1L1533.5 453.7 M1504.4 461.6L1505.2 477.8L1494.5 465.7 M1526.2 468.1L1527.1 481.5L1518.5 471.2 M1512.7 474.4L1513.3 487.1L1504.8 477.6 M1537.2 474.2L1538.4 489.4L1528.7 477.7 M1524.2 481.4L1525.4 494.8L1516.9 484.3 M1546.3 470.0L1548.0 485.6L1538.4 473.3 M1512.9 485.3L1514.0 499.4L1504.9 488.5 M1548.1 483.8L1548.6 497.9L1539.1 487.4 M1535.7 490.9L1535.5 503.2L1526.8 494.5 M1521.8 491.9L1522.9 508.4L1512.2 495.8 M1546.0 498.6L1545.6 511.9L1536.6 502.1 M1534.1 500.9L1534.3 516.1L1524.6 504.5 M1555.7 492.5L1556.3 507.9L1546.7 495.8 M1524.4 508.1L1523.9 520.0L1515.7 511.4" stroke="#8f2230" stroke-width="3" stroke-linecap="round" stroke-linejoin="round" opacity="0.6" fill="none"/></g>
<path d="M1497.0 256.7C1491.0 257.4 1478.8 260.6 1471.3 265.7C1463.8 270.7 1457.4 277.8 1452.1 287.1C1446.7 296.3 1443.5 306.7 1439.2 321.3C1434.9 335.9 1430.3 358.7 1426.4 374.8C1422.5 390.8 1417.9 405.1 1415.7 417.6C1413.5 430.1 1412.8 437.2 1413.1 449.7C1413.5 462.2 1414.9 480.0 1417.8 492.5C1420.7 505.0 1425.7 514.9 1430.7 524.6C1435.7 534.3 1443.1 546.8 1447.8 550.7C1452.5 554.6 1455.8 551.8 1458.9 548.1C1462.0 544.5 1465.3 538.1 1466.4 528.9C1467.5 519.6 1466.2 505.7 1465.3 492.5C1464.4 479.3 1461.4 464.0 1461.0 449.7C1460.7 435.4 1461.0 422.9 1463.2 406.9C1465.3 390.8 1470.0 368.4 1473.9 353.4C1477.7 338.4 1481.4 328.8 1486.3 317.0C1491.2 305.2 1499.9 292.1 1503.4 282.8C1506.9 273.5 1508.3 265.7 1507.3 261.4C1506.2 257.0 1503.0 256.0 1497.0 256.7Z" fill="url(#gS1)"/>
<g clip-path="url(#cpS1l)"><path d="M1509.6 259.8L1499.1 265.8L1504.2 254.9 M1520.4 264.7L1507.4 273.4L1515.0 259.8 M1496.4 242.7L1482.6 250.6L1489.3 236.1 M1506.9 275.3L1495.6 280.1L1499.5 268.5 M1497.6 266.3L1486.2 271.5L1490.5 259.7 M1487.4 255.4L1476.1 262.2L1481.9 250.4 M1493.0 279.1L1482.0 285.2L1487.1 273.7 M1484.8 270.1L1472.3 276.2L1477.5 263.3 M1502.9 286.6L1490.9 293.3L1496.6 280.8 M1491.7 291.6L1478.6 299.5L1485.3 285.8 M1481.9 283.0L1468.5 290.2L1474.6 276.3 M1472.3 272.7L1458.3 280.8L1465.3 266.2 M1476.8 288.4L1468.0 302.1L1467.2 285.8 M1460.7 287.8L1452.9 298.1L1451.2 285.3 M1487.4 294.3L1479.7 305.3L1478.5 291.9 M1448.9 284.1L1440.5 294.8L1438.6 281.4 M1480.4 302.5L1471.9 314.6L1470.5 299.9 M1464.7 298.9L1457.7 310.9L1457.6 297.0 M1450.6 295.9L1443.2 307.0L1442.4 293.7 M1471.0 312.0L1462.3 323.6L1460.5 309.2 M1455.8 306.2L1447.0 319.5L1446.0 303.6 M1482.4 313.1L1473.7 326.6L1472.9 310.6 M1443.0 304.6L1434.5 316.1L1432.7 301.9 M1475.1 323.6L1466.7 336.2L1465.7 321.1 M1457.7 321.5L1450.7 332.0L1449.9 319.4 M1445.9 314.9L1437.3 328.4L1436.5 312.3 M1464.7 334.1L1456.5 345.0L1454.7 331.5 M1447.3 330.7L1440.7 340.8L1440.0 328.7 M1476.3 335.9L1468.6 348.2L1468.1 333.7 M1437.4 326.2L1429.9 337.9L1429.2 324.1 M1469.8 343.7L1461.2 357.7L1460.8 341.3 M1452.5 342.6L1445.6 353.5L1445.1 340.6 M1440.6 336.1L1431.5 349.8L1430.5 333.4 M1444.2 349.3L1435.6 362.3L1434.6 346.8 M1470.9 356.2L1462.4 369.5L1461.7 353.7 M1431.3 346.3L1422.5 358.9L1421.0 343.6 M1461.7 363.6L1456.4 376.0L1452.7 363.0 M1445.0 363.4L1439.6 375.0L1435.8 362.8 M1429.0 358.8L1424.1 374.0L1421.2 358.3 M1453.8 377.0L1447.8 388.3L1443.3 376.3 M1436.4 373.8L1430.9 387.3L1427.1 373.2 M1464.9 377.5L1460.0 389.1L1456.6 377.0 M1459.1 387.2L1453.6 401.6L1450.0 386.6 M1444.1 385.6L1438.9 400.6L1435.5 385.0 M1451.8 401.5L1446.0 413.9L1441.8 400.9 M1435.4 398.4L1429.9 412.9L1426.2 397.8 M1462.4 402.6L1457.8 414.7L1454.8 402.1 M1441.0 414.5L1436.3 426.2L1433.2 414.0 M1426.4 410.8L1420.4 425.2L1416.3 410.1 M1447.6 425.7L1444.6 438.1L1439.1 426.6 M1430.5 427.3L1427.9 439.9L1422.6 428.1 M1461.3 420.7L1458.0 436.6L1451.3 421.8 M1418.3 426.9L1415.2 441.3L1409.1 427.9 M1455.6 437.2L1452.1 450.2L1446.0 438.3 M1440.5 436.7L1437.4 451.8L1431.2 437.8 M1449.2 449.8L1446.2 463.8L1440.3 450.7 M1435.0 453.8L1431.7 465.4L1425.9 454.8 M1461.9 448.2L1459.0 462.4L1453.1 449.1 M1419.7 451.6L1417.5 466.9L1412.1 452.5 M1459.3 463.1L1456.4 475.6L1450.8 464.0 M1426.6 463.4L1424.1 479.2L1418.2 464.4 M1453.5 474.8L1449.9 489.3L1443.2 475.9 M1437.2 477.9L1433.6 491.1L1427.3 479.0 M1464.4 474.4L1460.7 488.1L1454.1 475.6 M1424.2 480.8L1421.7 492.4L1416.7 481.6 M1444.2 487.7L1443.7 502.8L1435.5 490.0 M1430.0 493.5L1428.7 506.9L1420.8 496.0 M1453.4 501.1L1452.3 513.7L1445.0 503.4 M1440.2 503.7L1439.5 517.2L1432.0 505.9 M1464.2 499.1L1463.2 510.8L1456.5 501.2 M1429.0 506.3L1428.7 520.1L1421.5 508.3 M1462.0 510.9L1461.6 524.4L1454.4 512.9 M1451.2 515.0L1450.6 527.4L1443.8 517.0 M1439.2 516.8L1439.1 530.5L1432.2 518.7" stroke="#93232f" stroke-width="3" stroke-linecap="round" stroke-linejoin="round" opacity="0.55" fill="none"/></g>
<path d="M1497 300 C1488 330 1478 350 1474 380 C1478 360 1490 335 1500 310Z" fill="#7d1824" opacity="0.6"/>
<path d="M1493 257 L1507 256" stroke="#d9b9a8" stroke-width="1.6"/><path d="M1449 551 L1460 548" stroke="#d9c2b4" stroke-width="2"/><path d="M1540 536 L1551 532" stroke="#d9c2b4" stroke-width="2.4"/>
<g fill="none" stroke-linecap="round">
<path d="M1620.0 270.0 Q1616.0 310.0 1614.0 338.0" stroke="#e25d6a" stroke-width="24"/>
<path d="M1634.0 267.0 Q1636.0 305.0 1641.0 337.0" stroke="#e25d6a" stroke-width="25.5"/>
<path d="M1611.5 368.0 Q1605.0 400.0 1603.5 435.0" stroke="#e25d6a" stroke-width="25"/>
<path d="M1647.0 366.0 Q1648.0 400.0 1652.0 433.0" stroke="#e25d6a" stroke-width="25"/>
<path d="M1601.5 464.0 Q1600.0 500.0 1603.5 536.0" stroke="#e25d6a" stroke-width="26"/>
<path d="M1650.0 460.0 Q1650.5 495.0 1656.0 529.0" stroke="#e25d6a" stroke-width="26"/>
<path d="M1612.1 274.0 Q1608.1 310.0 1606.1 334.0" stroke="#cf4f5d" stroke-width="5.3" opacity="0.55"/>
<path d="M1626.7 272.0 Q1623.2 302.0 1618.8 304.0" stroke="#ef8d93" stroke-width="2.2" opacity="0.9"/>
<path d="M1625.6 271.0 Q1627.6 305.0 1632.6 333.0" stroke="#cf4f5d" stroke-width="5.6" opacity="0.55"/>
<path d="M1641.1 269.0 Q1643.7 297.0 1646.1 302.0" stroke="#ef8d93" stroke-width="2.2" opacity="0.9"/>
<path d="M1603.2 372.0 Q1596.8 400.0 1595.2 431.0" stroke="#cf4f5d" stroke-width="5.5" opacity="0.55"/>
<path d="M1618.5 370.0 Q1612.5 392.0 1608.5 401.5" stroke="#ef8d93" stroke-width="2.2" opacity="0.9"/>
<path d="M1638.8 370.0 Q1639.8 400.0 1643.8 429.0" stroke="#cf4f5d" stroke-width="5.5" opacity="0.55"/>
<path d="M1654.0 368.0 Q1655.5 392.0 1657.0 399.5" stroke="#ef8d93" stroke-width="2.2" opacity="0.9"/>
<path d="M1592.9 468.0 Q1591.4 500.0 1594.9 532.0" stroke="#cf4f5d" stroke-width="5.7" opacity="0.55"/>
<path d="M1608.8 466.0 Q1607.8 492.0 1608.7 500.0" stroke="#ef8d93" stroke-width="2.2" opacity="0.9"/>
<path d="M1641.4 464.0 Q1641.9 495.0 1647.4 525.0" stroke="#cf4f5d" stroke-width="5.7" opacity="0.55"/>
<path d="M1657.3 462.0 Q1658.3 487.0 1661.2 494.5" stroke="#ef8d93" stroke-width="2.2" opacity="0.9"/>
</g>
<path d="M1603 549 L1600 556 L1603 554 L1605 557 L1606 549Z" fill="#ea8d93"/><path d="M1656 542 L1653 549 L1656 547 L1659 550 L1659 542Z" fill="#ea8d93"/>
<path d="M1613 350 L1612 355 M1642 349 L1646 354 M1603 447 L1602 452 M1652 445 L1650 449" stroke="#e79aa0" stroke-width="1.5"/>
<defs><clipPath id="cpS3"><path d="M1746.3 281.1C1755.9 281.8 1770.6 284.3 1778.4 289.2C1786.2 294.1 1790.3 302.8 1793.4 310.6C1796.4 318.4 1796.7 327.7 1796.6 336.3C1796.5 344.8 1793.8 353.4 1792.9 362.0C1792.1 370.5 1791.9 378.4 1791.2 387.6C1790.6 396.9 1789.9 409.7 1789.1 417.6C1788.3 425.4 1786.8 425.8 1786.3 434.7C1785.8 443.6 1786.7 461.8 1786.1 471.1C1785.5 480.4 1784.0 485.4 1782.7 490.4C1781.4 495.3 1784.5 498.2 1778.4 501.1C1772.3 503.9 1758.8 506.8 1746.3 507.5C1733.8 508.2 1714.9 507.5 1703.5 505.3C1692.1 503.2 1683.3 498.6 1677.8 494.6C1672.3 490.7 1671.1 489.3 1670.3 481.8C1669.5 474.3 1671.7 459.7 1673.1 449.7C1674.5 439.7 1677.4 432.6 1678.9 421.9C1680.4 411.2 1681.0 396.2 1682.1 385.5C1683.2 374.8 1684.2 367.3 1685.3 357.7C1686.4 348.0 1686.2 337.3 1688.5 327.7C1690.8 318.1 1693.9 307.0 1699.2 299.9C1704.6 292.8 1712.8 288.1 1720.6 284.9C1728.5 281.8 1736.7 280.4 1746.3 281.1Z"/></clipPath></defs>
<path d="M1738 271 C1742 266 1750 266 1755 271 L1756 278 L1752 284 L1741 284 L1738 278Z" fill="#b5353f"/>
<path d="M1746.3 281.1C1755.9 281.8 1770.6 284.3 1778.4 289.2C1786.2 294.1 1790.3 302.8 1793.4 310.6C1796.4 318.4 1796.7 327.7 1796.6 336.3C1796.5 344.8 1793.8 353.4 1792.9 362.0C1792.1 370.5 1791.9 378.4 1791.2 387.6C1790.6 396.9 1789.9 409.7 1789.1 417.6C1788.3 425.4 1786.8 425.8 1786.3 434.7C1785.8 443.6 1786.7 461.8 1786.1 471.1C1785.5 480.4 1784.0 485.4 1782.7 490.4C1781.4 495.3 1784.5 498.2 1778.4 501.1C1772.3 503.9 1758.8 506.8 1746.3 507.5C1733.8 508.2 1714.9 507.5 1703.5 505.3C1692.1 503.2 1683.3 498.6 1677.8 494.6C1672.3 490.7 1671.1 489.3 1670.3 481.8C1669.5 474.3 1671.7 459.7 1673.1 449.7C1674.5 439.7 1677.4 432.6 1678.9 421.9C1680.4 411.2 1681.0 396.2 1682.1 385.5C1683.2 374.8 1684.2 367.3 1685.3 357.7C1686.4 348.0 1686.2 337.3 1688.5 327.7C1690.8 318.1 1693.9 307.0 1699.2 299.9C1704.6 292.8 1712.8 288.1 1720.6 284.9C1728.5 281.8 1736.7 280.4 1746.3 281.1Z" fill="#c13b45"/>
<g clip-path="url(#cpS3)">
<path d="M1690 290 C1698 330 1692 360 1690 400 C1686 440 1680 470 1684 500 L1660 500 L1670 290Z" fill="#a8333d"/>
<path d="M1669.7 480.7C1672.5 476.2 1681.8 471.5 1692.8 469.0C1703.8 466.5 1722.4 465.4 1735.6 465.7C1748.8 466.1 1763.4 467.9 1772.0 471.1C1780.5 474.3 1785.7 479.9 1787.0 485.0C1788.2 490.1 1786.5 497.5 1779.7 501.5C1772.9 505.4 1759.0 507.9 1746.3 508.8C1733.6 509.6 1715.2 508.8 1703.5 506.6C1691.8 504.5 1681.7 500.2 1676.1 495.9C1670.5 491.6 1666.9 485.2 1669.7 480.7Z" fill="#cf4553"/>
<path d="M1674.0 481.8C1676.3 478.7 1684.7 475.2 1694.9 473.2C1705.2 471.3 1723.5 469.9 1735.6 470.2C1747.7 470.6 1760.6 472.9 1767.7 475.4C1774.8 477.8 1777.5 481.7 1778.4 485.0C1779.3 488.3 1778.8 492.4 1773.0 495.1C1767.3 497.7 1755.4 500.3 1744.2 501.1C1732.9 501.8 1716.2 500.9 1705.6 499.3C1695.1 497.8 1686.3 494.6 1681.0 491.6C1675.8 488.7 1671.6 484.9 1674.0 481.8Z" fill="#ec8b97"/>
<path d="M1677.8 481.8C1678.2 478.9 1689.2 476.4 1690.7 477.5C1692.1 478.6 1685.0 485.7 1686.4 488.2C1687.8 490.7 1693.5 491.1 1699.2 492.5C1704.9 493.9 1715.3 495.3 1720.6 496.8C1726.0 498.2 1732.4 500.3 1731.3 501.1C1730.2 501.8 1721.3 502.5 1714.2 501.5C1707.1 500.5 1694.6 498.3 1688.5 495.1C1682.5 491.8 1677.5 484.7 1677.8 481.8Z" fill="#f7a6c0"/>
<path d="M1744.2 474.3C1745.2 473.4 1755.9 474.7 1761.3 476.4C1766.6 478.2 1774.8 482.7 1776.3 485.0C1777.7 487.3 1773.4 490.9 1769.8 490.4C1766.3 489.8 1759.1 484.5 1754.9 481.8C1750.6 479.1 1743.1 475.2 1744.2 474.3Z" fill="#f7a6c0"/>
<path d="M1703.5 477.5C1705.3 475.2 1716.7 473.8 1722.8 474.3C1728.8 474.8 1738.5 478.2 1739.9 480.7C1741.3 483.2 1736.0 488.0 1731.3 489.3C1726.7 490.5 1716.7 490.2 1712.1 488.2C1707.4 486.3 1701.7 479.8 1703.5 477.5Z" fill="#e67784"/>
<path d="M1683.5 361 C1720 336 1760 338 1794 368" fill="none" stroke="#e0a27d" stroke-width="3"/>
<path d="M1677.5 424 C1712 402 1750 404 1788 436" fill="none" stroke="#e0a27d" stroke-width="3"/>
</g>
<path d="M1851 262 L1856 264 L1861 262 L1863 268 L1860 274 L1860 280 L1852 280 L1852 274 L1849 268Z" fill="#a22c38"/>
<defs><linearGradient id="gS4" x1="0" x2="1"><stop offset="0" stop-color="#a32d39"/><stop offset="0.12" stop-color="#962833"/><stop offset="0.3" stop-color="#a12c38"/><stop offset="0.45" stop-color="#932731"/><stop offset="0.6" stop-color="#9f2b37"/><stop offset="0.78" stop-color="#912630"/><stop offset="1" stop-color="#a12c38"/></linearGradient></defs>
<path d="M1823 312 C1823 288 1838 277 1856 277 C1874 277 1889 288 1889 312 V504 C1889 514 1874 522 1856 522 C1838 522 1823 514 1823 504Z" fill="url(#gS4)"/>
<ellipse cx="1856" cy="503.5" rx="32" ry="18" fill="#c62f3e"/>
<ellipse cx="1836" cy="502" rx="5" ry="3.6" fill="#fff"/>
<ellipse cx="1856" cy="490" rx="4.2" ry="2.8" fill="#fff"/>
<ellipse cx="1873" cy="495" rx="7" ry="4.6" fill="#fff"/>
<ellipse cx="1853" cy="500" rx="4.5" ry="3.2" fill="#fff"/>
<ellipse cx="1866" cy="508" rx="4.2" ry="2.8" fill="#fff"/>
<ellipse cx="1881" cy="507" rx="4" ry="2.6" fill="#fff"/>
<ellipse cx="1853" cy="513" rx="6" ry="3.8" fill="#fff"/>
<ellipse cx="1838" cy="513" rx="3" ry="2" fill="#fff"/>
<ellipse cx="1840" cy="493" rx="2" ry="1.4" fill="#fff"/>
<ellipse cx="1872" cy="516" rx="1.6" ry="1.2" fill="#fff"/>
</g>
<g id="light-art">
<defs><linearGradient id="gChL" x1="0" x2="1"><stop offset="0" stop-color="#fab03a"/><stop offset="1" stop-color="#f8a630"/></linearGradient>
<linearGradient id="gChF" x1="0" y1="0" x2="0.3" y2="1"><stop offset="0" stop-color="#fdd07a"/><stop offset="0.6" stop-color="#fcc566"/><stop offset="1" stop-color="#fbbb55"/></linearGradient>
<clipPath id="cpChF"><polygon points="155.5,1306.5 319.0,1353.0 301.0,1413.0 146.5,1429.5"/></clipPath><clipPath id="cpChL"><polygon points="80.5,1278.0 155.5,1306.5 146.5,1429.5 67.0,1398.0"/></clipPath></defs>
<polygon points="80.5,1278.0 155.5,1306.5 146.5,1429.5 67.0,1398.0 70.9,1359.0 73.6,1348.5" fill="url(#gChL)"/>
<g clip-path="url(#cpChL)">
<ellipse cx="89.5" cy="1371.0" rx="12.6" ry="15.0" fill="#f39b2c" opacity="1" transform="rotate(0 89.5 1371.0)"/>
<ellipse cx="114.1" cy="1351.5" rx="7.2" ry="5.4" fill="#f39b2c" opacity="1" transform="rotate(-20 114.1 1351.5)"/>
<ellipse cx="70.0" cy="1333.5" rx="6.6" ry="9.0" fill="#fff" opacity="1" transform="rotate(0 70.0 1333.5)"/>
<polygon points="67.0,1398.0 146.5,1429.5 148.0,1398.0 68.5,1380.0" fill="#f9a833" opacity="0.6"/>
</g>
<polygon points="80.5,1278.0 174.4,1297.8 172.6,1303.8 191.5,1302.9 319.0,1353.0 155.5,1306.5" fill="#fddb8c"/>
<polygon points="80.5,1278.0 155.5,1306.5 157.0,1308.6 94.0,1284.0" fill="#fbcb6c"/>
<polygon points="155.5,1306.5 319.0,1353.0 301.0,1413.0 146.5,1429.5" fill="url(#gChF)"/>
<g clip-path="url(#cpChF)">
<path d="M151.0 1386.0 C196.0 1410.0 256.0 1398.0 310.0 1371.0 L319.0 1353.0 L155.5 1306.5 Z" fill="#fdd384" opacity="0.7"/>
<ellipse cx="177.4" cy="1316.4" rx="10.8" ry="8.4" fill="#efa131" opacity="1" transform="rotate(0 177.4 1316.4)"/>
<ellipse cx="203.5" cy="1354.5" rx="15.0" ry="14.4" fill="#efa131" opacity="1" transform="rotate(0 203.5 1354.5)"/>
<ellipse cx="287.5" cy="1359.6" rx="9.0" ry="8.1" fill="#efa131" opacity="1" transform="rotate(0 287.5 1359.6)"/>
<ellipse cx="242.5" cy="1380.0" rx="9.9" ry="8.4" fill="#efa131" opacity="1" transform="rotate(0 242.5 1380.0)"/>
<ellipse cx="172.6" cy="1386.6" rx="7.2" ry="7.8" fill="#efa131" opacity="1" transform="rotate(0 172.6 1386.6)"/>
<ellipse cx="274.0" cy="1396.8" rx="4.5" ry="4.5" fill="#efa131" opacity="1" transform="rotate(0 274.0 1396.8)"/>
<ellipse cx="209.5" cy="1314.0" rx="4.8" ry="3.9" fill="#fbd98e" opacity="1" transform="rotate(0 209.5 1314.0)"/>
<ellipse cx="236.5" cy="1303.5" rx="5.4" ry="3.0" fill="#fde3a4" opacity="1" transform="rotate(0 236.5 1303.5)"/>
<ellipse cx="174.4" cy="1425.0" rx="13.8" ry="9.6" fill="#fff" opacity="1" transform="rotate(0 174.4 1425.0)"/>
<ellipse cx="238.0" cy="1419.0" rx="8.4" ry="6.0" fill="#fff" opacity="1" transform="rotate(0 238.0 1419.0)"/>
</g>
<path d="M155.5 1306.5 L146.8 1428.6" stroke="#fde2a6" stroke-width="1.8"/>
<path d="M131 1500 H498 C510 1500 516 1508 515 1520 C514 1538 500 1546 484 1546 H146 C128 1546 115 1538 114 1520 C113 1508 119 1500 131 1500Z" fill="#e6f4fa"/>
<path d="M140 1546 H488 L478 1559 C476 1562 472 1563.5 468 1563.5 H160 C156 1563.5 152 1562 150 1559Z" fill="#b9dbe8"/>
<path d="M310 1546 H488 L478 1559 C476 1562 472 1563.5 468 1563.5 H322Z" fill="#a9d0df"/>
<path d="M143 1504 H486 C494 1504 498 1509 496 1516 L492 1530 C491 1534 487 1536 482 1536 H148 C143 1536 139 1534 138 1530 L134 1516 C132 1509 136 1504 143 1504Z" fill="#c4e2ee"/>
<polygon points="163.0,1494.0 190.0,1475.4 247.0,1486.5 253.6,1501.5" fill="#fbe995" stroke="#fbe995" stroke-width="1.2" stroke-linejoin="round"/>
<polygon points="163.0,1494.0 253.6,1501.5 253.6,1536.6 164.5,1532.4" fill="#f9e07a" stroke="#f9e07a" stroke-width="1.2" stroke-linejoin="round"/>
<polygon points="253.6,1501.5 247.0,1486.5 277.0,1509.0 280.0,1530.0 253.6,1536.6" fill="#f2d15a" stroke="#f2d15a" stroke-width="1.2" stroke-linejoin="round"/>
<path d="M163.6 1494.3 L253.0 1501.8" stroke="#fdf3c4" stroke-width="1.6"/>
<polygon points="240.4,1479.0 270.4,1440.0 290.5,1446.6 328.0,1518.0 325.0,1533.0 311.5,1536.6 280.0,1509.0" fill="#f6d968" stroke="#f6d968" stroke-width="1.2" stroke-linejoin="round"/>
<polygon points="270.4,1440.0 290.5,1446.6 328.0,1518.0 325.0,1533.0 280.0,1458.0" fill="#f2d15a" stroke="#f2d15a" stroke-width="1.2" stroke-linejoin="round"/>
<polygon points="240.4,1479.0 270.4,1440.0 280.0,1458.0 323.5,1533.0 311.5,1536.6 277.0,1509.0" fill="#f9e07a" stroke="#f9e07a" stroke-width="1.2" stroke-linejoin="round"/>
<polygon points="289.0,1449.0 304.0,1437.0 353.5,1441.5 389.5,1527.0 385.0,1534.5 340.0,1536.6 335.5,1518.0" fill="#f9e07a" stroke="#f9e07a" stroke-width="1.2" stroke-linejoin="round"/>
<polygon points="304.0,1437.0 353.5,1441.5 389.5,1527.0 385.0,1534.5 343.0,1458.0" fill="#fbe995" stroke="#fbe995" stroke-width="1.2" stroke-linejoin="round"/>
<polygon points="289.0,1449.0 304.0,1437.0 343.0,1458.0 385.0,1534.5 362.5,1536.0 335.5,1500.0" fill="#f9e07a" stroke="#f9e07a" stroke-width="1.2" stroke-linejoin="round"/>
<path d="M304.0 1437.6 L342.4 1458.6 L367.0 1500.0" fill="none" stroke="#fdf3c4" stroke-width="1.6"/>
<polygon points="335.5,1500.0 362.5,1536.0 340.0,1536.6 328.0,1518.0" fill="#f2d15a"/>
<polygon points="346.0,1458.0 367.6,1429.5 451.6,1476.6 457.6,1513.5 436.0,1536.0 391.0,1530.6 358.0,1500.0" fill="#f9e07a" stroke="#f9e07a" stroke-width="1.2" stroke-linejoin="round"/>
<polygon points="367.6,1429.5 451.6,1476.6 457.6,1513.5 379.0,1470.0" fill="#fbe995" stroke="#fbe995" stroke-width="1.2" stroke-linejoin="round"/>
<polygon points="346.0,1458.0 367.6,1429.5 379.0,1470.0 457.6,1513.5 436.0,1536.0 391.0,1530.6 358.0,1500.0" fill="#f9e07a" stroke="#f9e07a" stroke-width="1.2" stroke-linejoin="round"/>
<polygon points="358.0,1500.0 391.0,1530.6 385.0,1534.5 352.0,1518.0" fill="#f2d15a"/>
<path d="M367.6 1430.4 L379.0 1470.0 L456.4 1512.6" fill="none" stroke="#fdf3c4" stroke-width="1.6"/>
<path d="M507.3 1311.4C500.7 1302.3 507.7 1296.0 508.9 1288.1C510.1 1280.2 511.3 1270.6 514.7 1264.1C518.1 1257.5 524.8 1251.3 529.4 1248.8C534.0 1246.4 537.5 1246.0 542.3 1249.3C547.1 1252.6 551.6 1259.7 558.3 1268.9C565.0 1278.0 574.7 1293.2 582.4 1304.2C590.1 1315.1 601.8 1326.6 604.5 1334.6C607.2 1342.6 600.8 1346.7 598.4 1352.3C596.1 1357.9 598.7 1369.9 590.4 1368.3C582.1 1366.7 562.5 1352.1 548.7 1342.6C534.8 1333.2 513.9 1320.5 507.3 1311.4Z" fill="#a8ccd7"/>
<polygon points="519.8,1260.9 535.9,1249.3 604.5,1334.9 600.0,1344.3 574.3,1352.3" fill="#b7d5de"/>
<polygon points="542.3,1254.4 545.5,1252.8 604.5,1334.9 601.6,1341.0" fill="#c6dee5"/>
<path d="M596.5 1345.4 Q597.6 1342.6 599.5 1345.0L603.7 1350.0 Q605.6 1352.3 604.2 1354.9L599.0 1364.9 Q597.6 1367.5 594.6 1367.5L591.0 1367.5 Q588.0 1367.5 589.1 1364.7Z" fill="#5a9f3c"/>
<path d="M464.5 1371.5 Q456.5 1371.5 457.9 1379.4L475.1 1471.9 Q476.5 1479.8 483.8 1483.0L512.5 1495.8 Q519.8 1499.0 527.4 1496.5L551.5 1488.7 Q559.1 1486.2 561.0 1478.4L585.3 1379.3 Q587.2 1371.5 579.2 1371.5Z" fill="#a9d0dc"/>
<polygon points="457.3,1373.1 476.8,1479.0 519.0,1497.9 524.6,1402.0 462.1,1373.1" fill="#bbdbe6"/>
<polygon points="563.1,1400.4 586.4,1374.7 559.1,1485.1 545.5,1490.2" fill="#9dc8d6"/>
<polygon points="470.9,1405.2 511.8,1424.4 511.8,1480.6 479.7,1467.7" fill="#f7dc86"/>
<polygon points="503.8,1420.8 511.8,1424.4 511.8,1480.6 505.4,1478.0" fill="#f5cb6e"/>
<polygon points="477.3,1414.0 507.0,1426.8 507.0,1431.7 478.1,1418.8" fill="#fae9ad"/>
<polygon points="462.9,1387.6 474.1,1392.4 485.3,1471.0 480.5,1468.5" fill="#c5e0ea" opacity="0.8"/>
<ellipse cx="482.9" cy="1453.3" rx="3.5" ry="5" fill="#4f9a48" transform="rotate(-35 482.9 1453.3)"/>
<ellipse cx="507.8" cy="1463.7" rx="3" ry="4.5" fill="#4f9a48" transform="rotate(60 507.8 1463.7)"/>
<circle cx="487.3" cy="1458.9" r="6.6" fill="#3b3a98"/>
<circle cx="499.3" cy="1461.3" r="6.2" fill="#4a47ae"/>
<path d="M440.4 1352.3C440.7 1348.5 441.4 1344.0 447.6 1339.4C453.9 1334.9 467.2 1329.1 478.1 1325.0C489.1 1320.9 500.6 1312.4 513.4 1314.6C526.2 1316.7 542.3 1329.7 555.1 1337.8C567.9 1346.0 585.6 1357.1 590.4 1363.5C595.2 1369.9 589.9 1371.8 584.0 1376.3C578.1 1380.9 565.3 1386.4 555.1 1390.8C544.9 1395.2 534.7 1403.9 522.7 1402.8C510.7 1401.7 495.7 1391.2 482.9 1384.3C470.1 1377.5 453.1 1367.2 446.0 1361.9C439.0 1356.5 440.2 1356.0 440.4 1352.3Z" fill="#a5cfdc"/>
<path d="M455.7 1351.5C455.7 1348.5 452.5 1347.7 462.1 1342.6C471.7 1337.6 494.7 1317.3 513.4 1321.0C532.1 1324.7 565.3 1356.4 574.3 1365.1C583.4 1373.8 576.5 1368.2 567.9 1373.1C559.4 1378.1 540.7 1396.9 523.0 1394.8C505.4 1392.6 473.3 1367.5 462.1 1360.3C450.9 1353.1 455.7 1354.4 455.7 1351.5Z" fill="#c3e1ea"/>
<path d="M463.4 1354.6 Q458.9 1350.7 462.2 1345.7L460.4 1348.4 Q463.7 1343.4 469.2 1341.1L507.9 1324.5 Q513.4 1322.1 518.3 1325.6L567.9 1360.8 Q572.7 1364.3 567.2 1362.1L547.9 1354.5 Q542.3 1352.3 536.8 1349.9L522.1 1343.4 Q516.6 1341.0 511.1 1343.3L475.6 1358.0 Q470.1 1360.3 465.5 1356.4Z" fill="#b2d6e1"/>
<path d="M477.6 1367.7 Q468.5 1363.5 477.7 1359.7L510.6 1346.1 Q519.8 1342.3 528.6 1347.2L560.0 1364.7 Q568.7 1369.6 559.4 1373.3L531.0 1384.6 Q521.7 1388.4 512.7 1384.1Z" fill="#fcf5df"/>
<path d="M494.2 1358.7 C487.7 1371.5 507.0 1381.1 526.2 1376.3 C539.1 1373.1 540.7 1363.5 529.4 1360.3" fill="none" stroke="#f3e9c6" stroke-width="3" stroke-linecap="round"/>
<path d="M502.2 1361.9 C500.6 1369.9 516.6 1371.5 519.8 1363.5" fill="none" stroke="#f3e9c6" stroke-width="2.6" stroke-linecap="round"/>
<polygon points="505.4,1311.4 510.2,1307.4 590.4,1361.9 590.4,1368.3" fill="#a8ccd7"/>
</g>
<g id="oleaginosos-art">
<defs>
<linearGradient id="gPinkL" x1="0" x2="1"><stop offset="0" stop-color="#f6b7ae"/><stop offset="0.2" stop-color="#fce3de"/><stop offset="0.55" stop-color="#fad0c9"/><stop offset="1" stop-color="#f4aaa0"/></linearGradient>
<linearGradient id="gPinkR" x1="0" x2="1"><stop offset="0" stop-color="#ee7a6c"/><stop offset="0.6" stop-color="#e9695c"/><stop offset="1" stop-color="#d9564b"/></linearGradient>
<linearGradient id="gLbl" x1="0" x2="1"><stop offset="0" stop-color="#2b40a3"/><stop offset="0.5" stop-color="#3a35a0"/><stop offset="1" stop-color="#50298c"/></linearGradient>
<linearGradient id="gCapB" x1="0" x2="1"><stop offset="0" stop-color="#1b2a7a"/><stop offset="0.04" stop-color="#1f5fae"/><stop offset="0.16" stop-color="#1f5fae"/><stop offset="0.2" stop-color="#1c1f6c"/><stop offset="0.22" stop-color="#5a5fb0"/><stop offset="0.27" stop-color="#1c1f6c"/><stop offset="0.45" stop-color="#1c1f6c"/><stop offset="0.47" stop-color="#6a6fb8"/><stop offset="0.5" stop-color="#1c1f6c"/><stop offset="0.53" stop-color="#6a6fb8"/><stop offset="0.56" stop-color="#1c1f6c"/><stop offset="0.82" stop-color="#1c1f6c"/><stop offset="0.84" stop-color="#a9a6d8"/><stop offset="0.89" stop-color="#8a7fc8"/><stop offset="0.92" stop-color="#4a2a98"/><stop offset="1" stop-color="#5a2e9a"/></linearGradient>
<linearGradient id="gOilH" x1="0" x2="1"><stop offset="0" stop-color="#e4bb4c"/><stop offset="0.07" stop-color="#f4dc8a"/><stop offset="0.2" stop-color="#ecc85c"/><stop offset="0.6" stop-color="#e8bf4e"/><stop offset="0.9" stop-color="#deb244"/><stop offset="1" stop-color="#d3a53b"/></linearGradient>
<linearGradient id="gRib" x1="0" x2="0" y1="0" y2="1"><stop offset="0" stop-color="#fff3b8" stop-opacity="0.55"/><stop offset="0.35" stop-color="#fff3b8" stop-opacity="0"/><stop offset="0.7" stop-color="#b98522" stop-opacity="0"/><stop offset="1" stop-color="#b98522" stop-opacity="0.55"/></linearGradient>
<linearGradient id="gNeck" x1="0" x2="1"><stop offset="0" stop-color="#b4b7b9"/><stop offset="0.3" stop-color="#eef0f1"/><stop offset="0.7" stop-color="#d5d8da"/><stop offset="1" stop-color="#a4a8ab"/></linearGradient>
<linearGradient id="gCapK" x1="0" x2="1"><stop offset="0" stop-color="#2a2a2a"/><stop offset="0.25" stop-color="#4d4d4d"/><stop offset="0.5" stop-color="#1a1a1a"/><stop offset="1" stop-color="#0c0c0c"/></linearGradient>
<clipPath id="cpLblO"><rect x="989.4" y="1359.4" width="69.8" height="223.4"/></clipPath>
<clipPath id="cpPink"><path d="M870.3 1382 L847 1484 L855.6 1616 C856 1624 860 1627 868 1627 H934 C942 1627 946.5 1624 947 1616 L957 1484 L933.3 1382Z"/></clipPath>
</defs>
<!-- pink bottle -->
<path d="M870.3 1382 L847 1484 L855.6 1616 C856 1624 860 1627 868 1627 H934 C942 1627 946.5 1624 947 1616 L957 1484 L933.3 1382Z" fill="url(#gPinkL)"/>
<g clip-path="url(#cpPink)">
<path d="M873 1395 L853 1484 L858 1496 L880 1496 L886 1440 L890 1395Z" fill="#fdeeea" opacity="0.85"/>
<path d="M892 1395 L884 1496 L896 1496 L900 1460 C912 1450 920 1430 922 1395Z" fill="#fdeeea" opacity="0.8"/>
<path d="M921 1382 H940 L960 1484 L950 1630 H922 L934 1500 L930 1450Z" fill="url(#gPinkR)"/>
<path d="M921 1382 L930 1450 L934 1500 L937 1500 L950 1484 L934 1382Z" fill="#e0574b" opacity="0.6"/>
<path d="M846 1563 H922 L926 1630 H850Z" fill="#f0968b" opacity="0.7"/>
<path d="M855 1598 C880 1592 912 1580 926 1566 L930 1630 L855 1630Z" fill="#e87a6e" opacity="0.5"/>
<path d="M860 1568 H874 V1600 H862Z" fill="#f7c4bd" opacity="0.7"/>
<!-- label -->
<path d="M846 1502.8 H935 V1563.5 H850Z" fill="#1b1e68"/>
<path d="M851 1508.4 H924.5 L924 1550.2 H853Z" fill="url(#gLbl)"/>
<path d="M851 1508.4 H875 V1550.2 H853Z" fill="#3f7fd0" opacity="0.75"/>
<rect x="851.4" y="1515.5" width="59.6" height="6.2" fill="#b5a83c"/><rect x="851.4" y="1515.5" width="24" height="6.2" fill="#f2dd3a"/>
<rect x="851.4" y="1491.4" width="24" height="11" fill="#fff" opacity="0.95"/>
<rect x="856.7" y="1563" width="18" height="5" fill="#fff" opacity="0.9"/>
</g>
<!-- neck & cap -->
<path d="M862 1370 H941 L940 1375 L933.3 1383 V1396 H870.3 V1383 L864 1375Z" fill="#e4604f"/>
<path d="M870.3 1383 H933.3 V1396 C915 1392 890 1392 870.3 1396Z" fill="#d95a4c"/>
<path d="M866 1379.5 H938" stroke="#2a1418" stroke-width="1.3"/>
<path d="M860 1354.5 C860 1352.5 861 1351.5 862.5 1351.5 H941 C942.5 1351.5 943.5 1352.5 943.5 1354.5 V1365 C943.5 1369 940.5 1371.5 936.5 1371.5 H867 C863 1371.5 860 1369 860 1365Z" fill="url(#gCapB)"/>
<path d="M861 1367.2 H943" stroke="#c9d2f4" stroke-width="1.1" opacity="0.9"/><path d="M861 1369.5 H943" stroke="#14154e" stroke-width="2.2"/>

<path d="M1004.6 1240 H1043.1 V1265.7 C1047 1272 1054 1278 1061 1285 C1072 1296 1083.2 1310 1083.2 1326 V1336 H965.2 V1326 C965.2 1310 976 1296 987 1285 C994 1278 1001 1272 1004.6 1265.7Z" fill="url(#gNeck)"/>
<path d="M1004.6 1265.7 H1043.1" stroke="#555" stroke-width="1.4"/>
<path d="M1005 1268 L992 1282 L1012 1282 L1020 1268Z" fill="#fff" opacity="0.85"/>
<path d="M990 1283.3 H1059 C1072 1295 1083.2 1310 1083.2 1326 V1336 H965.2 V1326 C965.2 1310 977 1295 990 1283.3Z M970.2 1333.5 H1078.2 Q1083.2 1333.5 1083.2 1338.5 V1348.5 Q1083.2 1353.5 1078.2 1353.5 H970.2 Q965.2 1353.5 965.2 1348.5 V1338.5 Q965.2 1333.5 970.2 1333.5Z M970.2 1353.0 H1078.2 Q1083.2 1353.0 1083.2 1358.0 V1368.5 Q1083.2 1373.5 1078.2 1373.5 H970.2 Q965.2 1373.5 965.2 1368.5 V1358.0 Q965.2 1353.0 970.2 1353.0Z M972.6 1374.0 H1075.8 Q1081.0 1374.0 1081.0 1379.2 V1381.5 Q1081.0 1386.7 1075.8 1386.7 H972.6 Q967.4 1386.7 967.4 1381.5 V1379.2 Q967.4 1374.0 972.6 1374.0Z M972.6 1386.1 H1075.8 Q1081.0 1386.1 1081.0 1391.3 V1393.6 Q1081.0 1398.8 1075.8 1398.8 H972.6 Q967.4 1398.8 967.4 1393.6 V1391.3 Q967.4 1386.1 972.6 1386.1Z M972.6 1398.2 H1075.8 Q1081.0 1398.2 1081.0 1403.4 V1405.8 Q1081.0 1411.0 1075.8 1411.0 H972.6 Q967.4 1411.0 967.4 1405.8 V1403.4 Q967.4 1398.2 972.6 1398.2Z M972.6 1410.4 H1075.8 Q1081.0 1410.4 1081.0 1415.6 V1417.9 Q1081.0 1423.1 1075.8 1423.1 H972.6 Q967.4 1423.1 967.4 1417.9 V1415.6 Q967.4 1410.4 972.6 1410.4Z M972.6 1422.5 H1075.8 Q1081.0 1422.5 1081.0 1427.7 V1430.0 Q1081.0 1435.2 1075.8 1435.2 H972.6 Q967.4 1435.2 967.4 1430.0 V1427.7 Q967.4 1422.5 972.6 1422.5Z M972.6 1434.6 H1075.8 Q1081.0 1434.6 1081.0 1439.8 V1442.1 Q1081.0 1447.3 1075.8 1447.3 H972.6 Q967.4 1447.3 967.4 1442.1 V1439.8 Q967.4 1434.6 972.6 1434.6Z M972.6 1446.7 H1075.8 Q1081.0 1446.7 1081.0 1451.9 V1454.2 Q1081.0 1459.4 1075.8 1459.4 H972.6 Q967.4 1459.4 967.4 1454.2 V1451.9 Q967.4 1446.7 972.6 1446.7Z M972.6 1458.8 H1075.8 Q1081.0 1458.8 1081.0 1464.0 V1466.3 Q1081.0 1471.5 1075.8 1471.5 H972.6 Q967.4 1471.5 967.4 1466.3 V1464.0 Q967.4 1458.8 972.6 1458.8Z M972.6 1470.9 H1075.8 Q1081.0 1470.9 1081.0 1476.1 V1478.5 Q1081.0 1483.7 1075.8 1483.7 H972.6 Q967.4 1483.7 967.4 1478.5 V1476.1 Q967.4 1470.9 972.6 1470.9Z M972.6 1483.1 H1075.8 Q1081.0 1483.1 1081.0 1488.3 V1490.6 Q1081.0 1495.8 1075.8 1495.8 H972.6 Q967.4 1495.8 967.4 1490.6 V1488.3 Q967.4 1483.1 972.6 1483.1Z M972.6 1495.2 H1075.8 Q1081.0 1495.2 1081.0 1500.4 V1502.7 Q1081.0 1507.9 1075.8 1507.9 H972.6 Q967.4 1507.9 967.4 1502.7 V1500.4 Q967.4 1495.2 972.6 1495.2Z M972.6 1507.3 H1075.8 Q1081.0 1507.3 1081.0 1512.5 V1514.8 Q1081.0 1520.0 1075.8 1520.0 H972.6 Q967.4 1520.0 967.4 1514.8 V1512.5 Q967.4 1507.3 972.6 1507.3Z M972.6 1519.4 H1075.8 Q1081.0 1519.4 1081.0 1524.6 V1526.9 Q1081.0 1532.1 1075.8 1532.1 H972.6 Q967.4 1532.1 967.4 1526.9 V1524.6 Q967.4 1519.4 972.6 1519.4Z M972.6 1531.5 H1075.8 Q1081.0 1531.5 1081.0 1536.7 V1539.0 Q1081.0 1544.2 1075.8 1544.2 H972.6 Q967.4 1544.2 967.4 1539.0 V1536.7 Q967.4 1531.5 972.6 1531.5Z M972.6 1543.6 H1075.8 Q1081.0 1543.6 1081.0 1548.8 V1551.2 Q1081.0 1556.4 1075.8 1556.4 H972.6 Q967.4 1556.4 967.4 1551.2 V1548.8 Q967.4 1543.6 972.6 1543.6Z M972.6 1555.8 H1075.8 Q1081.0 1555.8 1081.0 1561.0 V1563.3 Q1081.0 1568.5 1075.8 1568.5 H972.6 Q967.4 1568.5 967.4 1563.3 V1561.0 Q967.4 1555.8 972.6 1555.8Z M972.6 1567.9 H1075.8 Q1081.0 1567.9 1081.0 1573.1 V1575.4 Q1081.0 1580.6 1075.8 1580.6 H972.6 Q967.4 1580.6 967.4 1575.4 V1573.1 Q967.4 1567.9 972.6 1567.9Z M970.2 1580.0 H1078.2 Q1083.2 1580.0 1083.2 1585.0 V1596.5 Q1083.2 1601.5 1078.2 1601.5 H970.2 Q965.2 1601.5 965.2 1596.5 V1585.0 Q965.2 1580.0 970.2 1580.0Z M969.2 1601 H1079.2 C1082.2 1606 1083.2 1612 1083.2 1620 V1632 C1083.2 1640 1078 1643.8 1070 1643.8 H978 C970 1643.8 965.2 1640 965.2 1632 V1620 C965.2 1612 966.2 1606 969.2 1601Z" fill="url(#gOilH)"/>
<path d="M970.2 1333.5 H1078.2 Q1083.2 1333.5 1083.2 1338.5 V1348.5 Q1083.2 1353.5 1078.2 1353.5 H970.2 Q965.2 1353.5 965.2 1348.5 V1338.5 Q965.2 1333.5 970.2 1333.5Z" fill="url(#gRib)"/>
<path d="M970.2 1353.0 H1078.2 Q1083.2 1353.0 1083.2 1358.0 V1368.5 Q1083.2 1373.5 1078.2 1373.5 H970.2 Q965.2 1373.5 965.2 1368.5 V1358.0 Q965.2 1353.0 970.2 1353.0Z" fill="url(#gRib)"/>
<path d="M972.6 1374.0 H1075.8 Q1081.0 1374.0 1081.0 1379.2 V1381.5 Q1081.0 1386.7 1075.8 1386.7 H972.6 Q967.4 1386.7 967.4 1381.5 V1379.2 Q967.4 1374.0 972.6 1374.0Z" fill="url(#gRib)"/>
<path d="M972.6 1386.1 H1075.8 Q1081.0 1386.1 1081.0 1391.3 V1393.6 Q1081.0 1398.8 1075.8 1398.8 H972.6 Q967.4 1398.8 967.4 1393.6 V1391.3 Q967.4 1386.1 972.6 1386.1Z" fill="url(#gRib)"/>
<path d="M972.6 1398.2 H1075.8 Q1081.0 1398.2 1081.0 1403.4 V1405.8 Q1081.0 1411.0 1075.8 1411.0 H972.6 Q967.4 1411.0 967.4 1405.8 V1403.4 Q967.4 1398.2 972.6 1398.2Z" fill="url(#gRib)"/>
<path d="M972.6 1410.4 H1075.8 Q1081.0 1410.4 1081.0 1415.6 V1417.9 Q1081.0 1423.1 1075.8 1423.1 H972.6 Q967.4 1423.1 967.4 1417.9 V1415.6 Q967.4 1410.4 972.6 1410.4Z" fill="url(#gRib)"/>
<path d="M972.6 1422.5 H1075.8 Q1081.0 1422.5 1081.0 1427.7 V1430.0 Q1081.0 1435.2 1075.8 1435.2 H972.6 Q967.4 1435.2 967.4 1430.0 V1427.7 Q967.4 1422.5 972.6 1422.5Z" fill="url(#gRib)"/>
<path d="M972.6 1434.6 H1075.8 Q1081.0 1434.6 1081.0 1439.8 V1442.1 Q1081.0 1447.3 1075.8 1447.3 H972.6 Q967.4 1447.3 967.4 1442.1 V1439.8 Q967.4 1434.6 972.6 1434.6Z" fill="url(#gRib)"/>
<path d="M972.6 1446.7 H1075.8 Q1081.0 1446.7 1081.0 1451.9 V1454.2 Q1081.0 1459.4 1075.8 1459.4 H972.6 Q967.4 1459.4 967.4 1454.2 V1451.9 Q967.4 1446.7 972.6 1446.7Z" fill="url(#gRib)"/>
<path d="M972.6 1458.8 H1075.8 Q1081.0 1458.8 1081.0 1464.0 V1466.3 Q1081.0 1471.5 1075.8 1471.5 H972.6 Q967.4 1471.5 967.4 1466.3 V1464.0 Q967.4 1458.8 972.6 1458.8Z" fill="url(#gRib)"/>
<path d="M972.6 1470.9 H1075.8 Q1081.0 1470.9 1081.0 1476.1 V1478.5 Q1081.0 1483.7 1075.8 1483.7 H972.6 Q967.4 1483.7 967.4 1478.5 V1476.1 Q967.4 1470.9 972.6 1470.9Z" fill="url(#gRib)"/>
<path d="M972.6 1483.1 H1075.8 Q1081.0 1483.1 1081.0 1488.3 V1490.6 Q1081.0 1495.8 1075.8 1495.8 H972.6 Q967.4 1495.8 967.4 1490.6 V1488.3 Q967.4 1483.1 972.6 1483.1Z" fill="url(#gRib)"/>
<path d="M972.6 1495.2 H1075.8 Q1081.0 1495.2 1081.0 1500.4 V1502.7 Q1081.0 1507.9 1075.8 1507.9 H972.6 Q967.4 1507.9 967.4 1502.7 V1500.4 Q967.4 1495.2 972.6 1495.2Z" fill="url(#gRib)"/>
<path d="M972.6 1507.3 H1075.8 Q1081.0 1507.3 1081.0 1512.5 V1514.8 Q1081.0 1520.0 1075.8 1520.0 H972.6 Q967.4 1520.0 967.4 1514.8 V1512.5 Q967.4 1507.3 972.6 1507.3Z" fill="url(#gRib)"/>
<path d="M972.6 1519.4 H1075.8 Q1081.0 1519.4 1081.0 1524.6 V1526.9 Q1081.0 1532.1 1075.8 1532.1 H972.6 Q967.4 1532.1 967.4 1526.9 V1524.6 Q967.4 1519.4 972.6 1519.4Z" fill="url(#gRib)"/>
<path d="M972.6 1531.5 H1075.8 Q1081.0 1531.5 1081.0 1536.7 V1539.0 Q1081.0 1544.2 1075.8 1544.2 H972.6 Q967.4 1544.2 967.4 1539.0 V1536.7 Q967.4 1531.5 972.6 1531.5Z" fill="url(#gRib)"/>
<path d="M972.6 1543.6 H1075.8 Q1081.0 1543.6 1081.0 1548.8 V1551.2 Q1081.0 1556.4 1075.8 1556.4 H972.6 Q967.4 1556.4 967.4 1551.2 V1548.8 Q967.4 1543.6 972.6 1543.6Z" fill="url(#gRib)"/>
<path d="M972.6 1555.8 H1075.8 Q1081.0 1555.8 1081.0 1561.0 V1563.3 Q1081.0 1568.5 1075.8 1568.5 H972.6 Q967.4 1568.5 967.4 1563.3 V1561.0 Q967.4 1555.8 972.6 1555.8Z" fill="url(#gRib)"/>
<path d="M972.6 1567.9 H1075.8 Q1081.0 1567.9 1081.0 1573.1 V1575.4 Q1081.0 1580.6 1075.8 1580.6 H972.6 Q967.4 1580.6 967.4 1575.4 V1573.1 Q967.4 1567.9 972.6 1567.9Z" fill="url(#gRib)"/>
<path d="M970.2 1580.0 H1078.2 Q1083.2 1580.0 1083.2 1585.0 V1596.5 Q1083.2 1601.5 1078.2 1601.5 H970.2 Q965.2 1601.5 965.2 1596.5 V1585.0 Q965.2 1580.0 970.2 1580.0Z" fill="url(#gRib)"/>
<path d="M990 1283.3 H1059" stroke="#d9a23a" stroke-width="1.2"/>
<circle cx="999.5" cy="1307" r="23.5" fill="#f6e3a0" opacity="0.38"/><circle cx="1001" cy="1290" r="4" fill="#f6e3a0" opacity="0.5"/><circle cx="1004" cy="1300" r="5" fill="#f6e3a0" opacity="0.45"/>
<circle cx="983" cy="1619" r="13" fill="#f6e3a0" opacity="0.45"/><circle cx="1000" cy="1607" r="4.5" fill="#f6e3a0" opacity="0.5"/>
<path d="M967.2 1622 C1000 1634 1050 1634 1081.2 1622" fill="none" stroke="#d3a53b" stroke-width="1.5" opacity="0.7"/>
<rect x="989.4" y="1359.4" width="69.8" height="223.4" fill="#fbe9a9"/>
<g clip-path="url(#cpLblO)">
<polygon points="987.3,1469.2 998.1,1450.4 999.7,1469.8 1016.0,1454.3 1011.3,1474.2 1031.8,1463.8 1021.1,1481.8 1044.8,1477.4 1028.2,1492.0 1050.5,1495.3 1031.9,1503.8 1053.7,1513.7 1031.9,1516.2 1043.0,1529.7 1028.2,1528.0 1037.5,1546.4 1021.1,1538.2 1026.7,1561.6 1011.3,1545.8 1008.9,1567.6 999.7,1550.2 990.9,1572.2 987.3,1550.8" fill="#f6b93c" stroke="#f6b93c" stroke-width="3" stroke-linejoin="round"/>
<circle cx="991.4" cy="1510.0" r="32.4" fill="#8b6a2c"/>
<circle cx="991.4" cy="1510.0" r="32.4" fill="none" stroke="#8b6a2c" stroke-width="3" stroke-dasharray="3.2 2.6"/>
</g>
<rect x="992.2" y="1362.2" width="64.2" height="217.8" fill="none" stroke="#43b274" stroke-width="1.1"/>
<g font-family="'Liberation Sans', sans-serif" font-weight="700" fill="#111" stroke="#111" stroke-linejoin="round" text-anchor="middle">
<text transform="translate(1023.3 1392.4) scale(0.385 1)" font-size="16.3" stroke-width="1.5">SUNFLOWER OIL</text>
<text transform="translate(1023.5 1425) scale(0.395 1)" font-size="29" stroke-width="2.4">MOCKUP</text>
<text transform="translate(1024.5 1454.4) scale(0.76 1)" font-size="9.8" stroke-width="0.7">YOUR BRAND</text>
<text transform="translate(1024.4 1467) scale(0.72 1)" font-size="9.8" stroke-width="0.7">HERE</text>
</g>
<path d="M999.6 1216 C999.6 1212 1003 1210 1007 1210 H1040 C1044 1210 1047.7 1212 1047.7 1216 V1236 C1049 1237 1049.5 1238.5 1049.5 1240.5 C1049.5 1243.5 1046 1245 1042 1245 H1006 C1002 1245 998.2 1243.5 998.2 1240.5 C998.2 1238.5 998.5 1237 999.6 1236Z" fill="url(#gCapK)"/>
<path d="M1000 1225 H1047.5" stroke="#000" stroke-width="1.8"/><path d="M1000 1227 H1040" stroke="#555" stroke-width="0.9"/><path d="M999.6 1236 H1047.7" stroke="#000" stroke-width="1.4"/>
</g>
<g id="bebidas-art">
<defs>
<linearGradient id="gJ" x1="0" x2="1"><stop offset="0" stop-color="#fbd02f"/><stop offset="0.06" stop-color="#ffe75e"/><stop offset="0.17" stop-color="#fdd236"/><stop offset="0.42" stop-color="#fbb22c"/><stop offset="0.68" stop-color="#f78d27"/><stop offset="0.86" stop-color="#f9a528"/><stop offset="1" stop-color="#e9ae31"/></linearGradient>
<linearGradient id="gJcap" x1="0" x2="1"><stop offset="0" stop-color="#f3a526"/><stop offset="0.3" stop-color="#fbd04a"/><stop offset="0.6" stop-color="#f4a627"/><stop offset="1" stop-color="#ee8a22"/></linearGradient>
<linearGradient id="gJtop" x1="0" x2="1"><stop offset="0" stop-color="#fcc42d"/><stop offset="0.5" stop-color="#f79a20"/><stop offset="1" stop-color="#ea4a24"/></linearGradient>
<linearGradient id="gBand" x1="0" x2="1"><stop offset="0" stop-color="#d9dadc"/><stop offset="0.5" stop-color="#f0f0f1"/><stop offset="1" stop-color="#d2d3d6"/></linearGradient>
<radialGradient id="gDome" cx="0.5" cy="0.55" r="0.6"><stop offset="0" stop-color="#ffffff"/><stop offset="0.7" stop-color="#f1f1f2"/><stop offset="1" stop-color="#d7d8da"/></radialGradient>
<radialGradient id="gOr" cx="0.35" cy="0.35" r="0.8"><stop offset="0" stop-color="#fdbb4e"/><stop offset="0.6" stop-color="#f9a02c"/><stop offset="1" stop-color="#f18a1c"/></radialGradient>
<linearGradient id="gCola" x1="0" x2="1"><stop offset="0" stop-color="#6b2b36"/><stop offset="0.2" stop-color="#7a3742"/><stop offset="0.4" stop-color="#5f2430"/><stop offset="1" stop-color="#5a212c"/></linearGradient>
</defs>
<path d="M1526.2 1342.4C1526.2 1346.3 1527.1 1356.8 1526.2 1365.9C1525.3 1375.1 1525.1 1385.1 1521.0 1397.3C1516.8 1409.5 1506.5 1426.5 1501.4 1439.1C1496.3 1451.7 1492.0 1460.0 1490.4 1473.1C1488.7 1486.1 1490.5 1503.6 1491.4 1517.5C1492.4 1531.4 1494.3 1543.6 1496.1 1556.7C1498.0 1569.8 1500.5 1584.5 1502.7 1595.9C1504.8 1607.3 1508.1 1620.3 1509.2 1625.2 L1588.9 1625.2L1588.9 1625.2C1590.0 1620.3 1593.3 1607.3 1595.5 1595.9C1597.6 1584.5 1600.2 1569.8 1602.0 1556.7C1603.8 1543.6 1605.6 1531.4 1606.4 1517.5C1607.3 1503.6 1609.0 1486.1 1607.2 1473.1C1605.4 1460.0 1600.8 1451.7 1595.5 1439.1C1590.1 1426.5 1579.2 1409.5 1575.1 1397.3C1570.9 1385.1 1571.4 1375.1 1570.6 1365.9C1569.9 1356.8 1570.6 1346.3 1570.6 1342.4Z" fill="#d2cec7"/>
<path d="M1506.6 1630 C1506.6 1627 1509 1625 1512 1625 H1586 C1589 1625 1591.5 1627 1591.5 1630 C1591.5 1634 1589 1636.5 1585 1636.5 H1513 C1509 1636.5 1506.6 1634 1506.6 1630Z" fill="#c5c0b8"/>
<defs><clipPath id="cpCola"><path d="M1523.6 1398.6C1520.5 1405.6 1509.9 1428.0 1505.3 1440.4C1500.7 1452.8 1497.5 1460.2 1496.1 1473.1C1494.8 1485.9 1496.2 1503.6 1497.2 1517.5C1498.1 1531.4 1500.1 1543.6 1501.9 1556.7C1503.7 1569.8 1506.1 1585.2 1508.2 1595.9C1510.3 1606.6 1513.4 1616.6 1514.4 1620.7 L1584.0 1620.7L1584.0 1620.7C1585.0 1616.6 1588.1 1606.6 1590.2 1595.9C1592.3 1585.2 1594.8 1569.8 1596.5 1556.7C1598.2 1543.6 1599.9 1531.4 1600.7 1517.5C1601.5 1503.6 1602.9 1485.9 1601.5 1473.1C1600.0 1460.2 1596.6 1452.8 1591.8 1440.4C1587.0 1428.0 1575.7 1405.6 1572.5 1398.6Z"/></clipPath></defs>
<path d="M1523.6 1398.6C1520.5 1405.6 1509.9 1428.0 1505.3 1440.4C1500.7 1452.8 1497.5 1460.2 1496.1 1473.1C1494.8 1485.9 1496.2 1503.6 1497.2 1517.5C1498.1 1531.4 1500.1 1543.6 1501.9 1556.7C1503.7 1569.8 1506.1 1585.2 1508.2 1595.9C1510.3 1606.6 1513.4 1616.6 1514.4 1620.7 L1584.0 1620.7L1584.0 1620.7C1585.0 1616.6 1588.1 1606.6 1590.2 1595.9C1592.3 1585.2 1594.8 1569.8 1596.5 1556.7C1598.2 1543.6 1599.9 1531.4 1600.7 1517.5C1601.5 1503.6 1602.9 1485.9 1601.5 1473.1C1600.0 1460.2 1596.6 1452.8 1591.8 1440.4C1587.0 1428.0 1575.7 1405.6 1572.5 1398.6Z" fill="url(#gCola)"/>
<g clip-path="url(#cpCola)">
<path d="M1528.8 1399.9 C1517.0 1439.1 1506.6 1465.2 1509.2 1543.6 L1515.7 1543.6 C1514.4 1465.2 1526.2 1439.1 1536.6 1399.9 Z" fill="#85434d" opacity="0.55"/>
<circle cx="1556.3" cy="1410.3" r="2.5" fill="#c2452f"/>
<circle cx="1539.3" cy="1424.7" r="2.9" fill="#3b161d"/>
<circle cx="1548.4" cy="1428.6" r="2.1" fill="#3b161d"/>
<circle cx="1536.6" cy="1436.5" r="2.9" fill="#c9502f"/>
<circle cx="1554.9" cy="1446.4" r="3.8" fill="#e0652f"/>
<circle cx="1545.8" cy="1441.7" r="2.1" fill="#3b161d"/>
<circle cx="1540.6" cy="1452.2" r="2.5" fill="#3b161d"/>
<circle cx="1548.4" cy="1456.1" r="2.1" fill="#3b161d"/>
<circle cx="1560.2" cy="1460.0" r="2.5" fill="#4a1c25"/>
<circle cx="1535.3" cy="1555.4" r="3.3" fill="#c2452f"/>
<circle cx="1526.2" cy="1551.5" r="2.1" fill="#3b161d"/>
<circle cx="1523.6" cy="1559.3" r="2.1" fill="#3b161d"/>
<circle cx="1528.8" cy="1572.4" r="2.1" fill="#c2452f"/>
<circle cx="1534.0" cy="1578.9" r="2.1" fill="#3b161d"/>
<circle cx="1545.8" cy="1584.2" r="2.9" fill="#3b161d"/>
<circle cx="1535.3" cy="1588.1" r="2.5" fill="#d05a34"/>
<circle cx="1539.3" cy="1582.8" r="2.1" fill="#3b161d"/>
</g>
<path d="M1535.3 1343.7 L1544.5 1343.7 L1543.2 1397.3 L1531.4 1397.3 Z" fill="#e6e3de" opacity="0.9"/>
<path d="M1553.6 1343.7 L1560.2 1343.7 L1562.8 1397.3 L1554.9 1397.3 Z" fill="#e6e3de" opacity="0.7"/>
<rect x="1504" y="1466.5" width="87.5" height="73.2" fill="#dcc4bb"/>
<path d="M1517 1321 C1517 1319 1518.5 1317.6 1520.5 1317.6 H1575 C1577 1317.6 1578.5 1319 1578.5 1321 V1332 C1578.5 1334 1577 1335 1575 1335 H1520.5 C1518.5 1335 1517 1334 1517 1332Z" fill="#ee7349"/>
<path d="M1521 1335 H1573.5 V1340 C1573.5 1342 1572 1343.5 1570 1343.5 H1524.5 C1522.5 1343.5 1521 1342 1521 1340Z" fill="#e4603b"/>
<defs><clipPath id="cpJug"><path d="M1679 1292.7 C1678 1300 1676 1304 1671 1309 L1634 1346 C1626 1354 1623 1362 1623 1372 V1624 C1623 1637 1631 1646 1645 1646 H1797 C1811 1646 1819 1637 1819 1624 V1400 C1819 1390 1816 1383 1811 1375 L1770 1311 C1765 1303 1759 1299 1752 1297 C1749 1296 1747.5 1295 1747 1292.7Z"/></clipPath></defs>
<ellipse cx="1721" cy="1640" rx="100" ry="9" fill="#d4d6d8" opacity="0.7"/>
<path d="M1679 1292.7 C1678 1300 1676 1304 1671 1309 L1634 1346 C1626 1354 1623 1362 1623 1372 V1624 C1623 1637 1631 1646 1645 1646 H1797 C1811 1646 1819 1637 1819 1624 V1400 C1819 1390 1816 1383 1811 1375 L1770 1311 C1765 1303 1759 1299 1752 1297 C1749 1296 1747.5 1295 1747 1292.7Z" fill="#dde1e4" stroke="#9298b0" stroke-width="1.6"/>
<g clip-path="url(#cpJug)">
<path d="M1610 1306 C1650 1300 1700 1300 1760 1303 L1830 1303 V1612 C1780 1626 1660 1626 1610 1612Z" fill="url(#gJ)"/>
<path d="M1623 1612 C1660 1640 1780 1640 1819 1612 V1650 H1623Z" fill="#d9dde0"/>
<path d="M1640 1634 C1680 1624 1760 1624 1800 1634 C1760 1644 1680 1644 1640 1634Z" fill="#eef0f2"/>
<path d="M1623 1600 C1660 1630 1780 1630 1819 1600 L1819 1612 C1780 1640 1660 1640 1623 1612Z" fill="#f7a623" opacity="0.9"/>
<path d="M1629 1372 C1629 1362 1633 1356 1640 1349 L1676 1314 L1684 1316 L1648 1352 C1640 1360 1637 1368 1637 1378 V1490 H1629Z" fill="#ffe977" opacity="0.85"/>
<path d="M1629 1586 H1640 V1614 L1629 1610Z" fill="#ffe977" opacity="0.85"/>
<path d="M1680 1445 C1720 1440 1780 1442 1819 1438 L1819 1452 C1790 1450 1720 1452 1680 1445Z" fill="#ee8f1d" opacity="0.9"/>
<path d="M1731.4 1342.4 C1731.4 1365.9 1732.7 1397.3 1734.5 1413.0 C1739.2 1431.3 1783.6 1431.3 1815.0 1422.1" fill="none" stroke="#e3791f" stroke-width="4.5" stroke-linecap="round" opacity="0.85"/>
</g>
<path d="M1747.6 1329.3 C1747.6 1320.2 1758.8 1316.3 1764.0 1325.4 L1798.8 1394.7 C1803.2 1405.1 1799.8 1416.9 1790.2 1417.1 L1760.1 1417.1 C1752.3 1417.1 1748.1 1413.0 1748.1 1405.1 L1747.6 1329.3 C1747.6 1329.3 1747.6 1329.3 1747.6 1329.3Z" fill="#fff" stroke="#2f4f5e" stroke-width="1.1"/>
<g clip-path="url(#cpJug)">
<rect x="1620" y="1507" width="202" height="63" fill="url(#gBand)"/>
<path d="M1620 1500 H1656 C1664 1500 1664 1494 1668 1488 C1690 1452 1754 1452 1776 1488 C1780 1494 1780 1500 1788 1500 H1822 V1509 H1782 C1774 1509 1772 1502 1768 1496 C1750 1466 1694 1466 1676 1496 C1672 1502 1670 1509 1662 1509 H1620Z" fill="#fdd23c"/>
<path d="M1666 1507 C1668 1500 1672 1496 1676 1490 C1696 1462 1748 1462 1768 1490 C1772 1496 1776 1500 1778 1507 V1572 H1666Z" fill="url(#gDome)"/>
<path d="M1620 1570 H1668 C1690 1600 1754 1600 1776 1570 H1822 V1583 H1784 C1760 1612 1684 1612 1660 1583 H1620Z" fill="#f7941e"/>
<path d="M1620 1570 H1668 C1672 1576 1676 1580 1680 1583 H1620Z M1776 1570 H1822 V1576 H1770Z" fill="#fbb040" opacity="0.8"/>
</g>
<circle cx="1689.5" cy="1560.6" r="34" fill="url(#gOr)"/>
<ellipse cx="1672" cy="1545" rx="9" ry="12" fill="#fdd08a" opacity="0.8" transform="rotate(35 1672 1545)"/>
<path d="M1694 1533 L1701 1536 L1706 1531 L1707 1538 L1714 1538 L1709 1543 L1711 1549 L1704 1545 L1699 1548 L1700 1541Z" fill="#4f9a3a"/>
<circle cx="1743" cy="1569.8" r="30" fill="#f7941e"/><circle cx="1743" cy="1569.8" r="25.5" fill="#fbb54c"/>
<path d="M1743 1569.8 L1767.2 1576.0 M1743 1569.8 L1755.8 1591.3 M1743 1569.8 L1736.8 1594.0 M1743 1569.8 L1721.5 1582.6 M1743 1569.8 L1718.8 1563.6 M1743 1569.8 L1730.2 1548.3 M1743 1569.8 L1749.2 1545.6 M1743 1569.8 L1764.5 1557.0" stroke="#f7941e" stroke-width="2.6"/>
<ellipse cx="1755.0" cy="1578.8" rx="7" ry="3.6" fill="#fdd28c" opacity="0.85" transform="rotate(36.8 1755.0 1578.8)"/>
<ellipse cx="1745.1" cy="1584.6" rx="7" ry="3.6" fill="#fdd28c" opacity="0.85" transform="rotate(81.8 1745.1 1584.6)"/>
<ellipse cx="1734.0" cy="1581.8" rx="7" ry="3.6" fill="#fdd28c" opacity="0.85" transform="rotate(126.8 1734.0 1581.8)"/>
<ellipse cx="1728.2" cy="1571.9" rx="7" ry="3.6" fill="#fdd28c" opacity="0.85" transform="rotate(171.8 1728.2 1571.9)"/>
<ellipse cx="1731.0" cy="1560.8" rx="7" ry="3.6" fill="#fdd28c" opacity="0.85" transform="rotate(216.8 1731.0 1560.8)"/>
<ellipse cx="1740.9" cy="1555.0" rx="7" ry="3.6" fill="#fdd28c" opacity="0.85" transform="rotate(261.8 1740.9 1555.0)"/>
<ellipse cx="1752.0" cy="1557.8" rx="7" ry="3.6" fill="#fdd28c" opacity="0.85" transform="rotate(306.8 1752.0 1557.8)"/>
<ellipse cx="1757.8" cy="1567.7" rx="7" ry="3.6" fill="#fdd28c" opacity="0.85" transform="rotate(351.8 1757.8 1567.7)"/>
<circle cx="1743" cy="1569.8" r="3" fill="#f7941e"/>
<path d="M1718 1516 C1722 1510 1730 1516 1728 1524 C1727 1530 1729 1536 1727 1540 C1724 1534 1722 1528 1718 1524 C1716 1521 1716 1518 1718 1516Z" fill="#fbb62f"/>
<path d="M1752 1514 C1758 1512 1760 1518 1754 1520 C1746 1522 1740 1530 1737 1536 C1736 1526 1742 1516 1752 1514Z" fill="#fbb62f"/>
<text x="1718.5" y="1503.5" text-anchor="middle" font-family="'Liberation Sans', sans-serif" font-weight="700" font-size="31" fill="#f9a326" stroke="#fff3c4" stroke-width="3.2" paint-order="stroke" stroke-linejoin="round" textLength="84" lengthAdjust="spacingAndGlyphs">Juice</text>
<text x="1718.5" y="1503.5" text-anchor="middle" font-family="'Liberation Sans', sans-serif" font-weight="700" font-size="31" fill="#f9a326" stroke="#f08c1a" stroke-width="0.8" textLength="84" lengthAdjust="spacingAndGlyphs">Juice</text>
<path d="M1674.6 1258 V1281 C1674.6 1292 1751 1292 1751 1281 V1258Z" fill="url(#gJcap)"/>
<path d="M1677.0 1266V1287 M1680.4 1266V1287 M1683.8 1266V1287 M1687.2 1266V1287 M1690.6 1266V1287 M1694.0 1266V1287 M1697.4 1266V1287 M1700.8 1266V1287 M1704.2 1266V1287 M1707.6 1266V1287 M1711.0 1266V1287 M1714.4 1266V1287 M1717.8 1266V1287 M1721.2 1266V1287 M1724.6 1266V1287 M1728.0 1266V1287 M1731.4 1266V1287 M1734.8 1266V1287 M1738.2 1266V1287 M1741.6 1266V1287 M1745.0 1266V1287 M1748.4 1266V1287" stroke="#d98a1c" stroke-width="1" opacity="0.7"/>
<ellipse cx="1712.8" cy="1257" rx="38.4" ry="10.6" fill="url(#gJtop)"/>
<ellipse cx="1708" cy="1256" rx="29" ry="6.6" fill="#fcc63a" opacity="0.75"/>
<path d="M1676 1256 C1680 1248 1700 1246.5 1725 1247" fill="none" stroke="#fff6d0" stroke-width="1.6" stroke-linecap="round"/>
<path d="M1738 1262 C1746 1262 1751 1266 1751 1270 V1283 C1748 1287 1742 1289 1736 1290Z" fill="#ea4a26" opacity="0.5"/>
<path d="M1675 1286 C1690 1293 1736 1293 1750.5 1286 L1751 1290 C1736 1297 1690 1297 1675.5 1290Z" fill="#f7a325"/>
<path d="M1740 1289 L1750.5 1286 L1757 1286.5 L1758 1289.5 L1751 1290.5 L1741 1294Z" fill="#f9d13e"/>
</g>
<g id="circles">
<circle cx="1482.6" cy="655.5" r="69" fill="#9f0e27"/>
<circle cx="1678.5" cy="655.5" r="62.25" fill="#fff" stroke="#5d869e" stroke-width="13.5"/>
<circle cx="1872.6" cy="655.5" r="62.25" fill="#fff" stroke="#8fa9bc" stroke-width="13.5"/>
<circle cx="1482.3" cy="592.5" r="3.6" fill="#fff"/>
<circle cx="1678.3" cy="592.5" r="3.6" fill="#fff"/>
<circle cx="1872.3" cy="592.5" r="3.6" fill="#fff"/>
</g>
<g id="overlay">
<path class="dot" d="M349.6 468.1V639"/>
</g>
<g id="texts" font-family="'Liberation Sans', sans-serif" stroke-linejoin="round">
<text transform="translate(29.3 86.8) scale(0.9715 1)" font-size="66" font-weight="700" fill="#000" stroke="#000" stroke-width="2.4">Impacto de los octógonos en hábitos de consumo de limeños</text>
<text transform="translate(47.1 206.7) scale(0.9530 1)" font-size="41" font-weight="700" fill="#fff" stroke="#fff" stroke-width="0.5">Lácteos</text>
<text transform="translate(723.3 206.7) scale(0.9444 1)" font-size="41" font-weight="700" fill="#fff" stroke="#fff" stroke-width="0.5">Golosinas</text>
<text transform="translate(1404.8 206.7) scale(0.9712 1)" font-size="41" font-weight="700" fill="#fff" stroke="#fff" stroke-width="0.5">Embutidos</text>
<text transform="translate(46.8 971.7) scale(0.9504 1)" font-size="41" font-weight="700" fill="#fff" stroke="#fff" stroke-width="0.5">Productos &#160;light</text>
<text transform="translate(723.8 971.7) scale(0.9601 1)" font-size="41" font-weight="700" fill="#fff" stroke="#fff" stroke-width="0.5">Oleaginosos</text>
<text transform="translate(1406.3 971.7) scale(0.9589 1)" font-size="41" font-weight="700" fill="#fff" stroke="#fff" stroke-width="0.5">Bebidas</text>
<text transform="translate(53.7 403.0) scale(1.1430 1)" font-size="30" font-weight="400" fill="#fff" stroke="#fff" stroke-width="0.9">El</text>
<text transform="translate(91.3 403.0) scale(1.1772 1)" font-size="39.5" font-weight="700" fill="#fff" stroke="#fff" stroke-width="0.3">66%</text>
<text transform="translate(47.9 442.8) scale(1.0355 1)" font-size="35.5" font-weight="400" fill="#fff" stroke="#fff" stroke-width="0.9">reducirá</text>
<text transform="translate(42.9 481.8) scale(1.0541 1)" font-size="35.5" font-weight="400" fill="#fff" stroke="#fff" stroke-width="0.9">consumo</text>
<text transform="translate(288.7 327.4) scale(1.1430 1)" font-size="30" font-weight="400" fill="#000" stroke="#000" stroke-width="0.9">El</text>
<text transform="translate(325.4 327.4) scale(1.0593 1)" font-size="39.5" font-weight="700" fill="#000" stroke="#000" stroke-width="0.3">14%</text>
<text transform="translate(275.3 364.7) scale(1.0299 1)" font-size="33" font-weight="400" fill="#000" stroke="#000" stroke-width="0.9">dejará de</text>
<text transform="translate(279.0 400.5) scale(1.0446 1)" font-size="33" font-weight="400" fill="#000" stroke="#000" stroke-width="0.9">consumir</text>
<text transform="translate(439.7 498.0) scale(1.1430 1)" font-size="30" font-weight="400" fill="#000" stroke="#000" stroke-width="0.9">El</text>
<text transform="translate(477.3 498.0) scale(1.1561 1)" font-size="39.5" font-weight="700" fill="#000" stroke="#000" stroke-width="0.3">20%</text>
<text transform="translate(429.0 534.5) scale(1.0221 1)" font-size="33" font-weight="400" fill="#000" stroke="#000" stroke-width="0.9">no variará</text>
<text transform="translate(437.9 569.8) scale(1.0597 1)" font-size="33" font-weight="400" fill="#000" stroke="#000" stroke-width="0.9">consumo</text>
<text transform="translate(715.5 332.5) scale(1.1430 1)" font-size="30" font-weight="400" fill="#fff" stroke="#fff" stroke-width="0.9">El</text>
<text transform="translate(753.1 332.5) scale(1.1689 1)" font-size="39.5" font-weight="700" fill="#fff" stroke="#fff" stroke-width="0.3">63%</text>
<text transform="translate(708.5 371.8) scale(1.0529 1)" font-size="35.5" font-weight="400" fill="#fff" stroke="#fff" stroke-width="0.9">reducirá</text>
<text transform="translate(705.7 410.6) scale(1.0625 1)" font-size="35.5" font-weight="400" fill="#fff" stroke="#fff" stroke-width="0.9">consumo</text>
<text transform="translate(932.7 332.5) scale(1.1430 1)" font-size="30" font-weight="400" fill="#000" stroke="#000" stroke-width="0.9">El</text>
<text transform="translate(970.5 332.5) scale(0.9944 1)" font-size="39.5" font-weight="700" fill="#000" stroke="#000" stroke-width="0.3">21%</text>
<text transform="translate(917.5 368.7) scale(1.0314 1)" font-size="33" font-weight="400" fill="#000" stroke="#000" stroke-width="0.9">dejará de</text>
<text transform="translate(921.4 406.5) scale(1.0551 1)" font-size="33" font-weight="400" fill="#000" stroke="#000" stroke-width="0.9">consumir</text>
<text transform="translate(1135.1 334.0) scale(1.1430 1)" font-size="30" font-weight="400" fill="#000" stroke="#000" stroke-width="0.9">El</text>
<text transform="translate(1171.9 334.0) scale(0.9995 1)" font-size="39.5" font-weight="700" fill="#000" stroke="#000" stroke-width="0.3">17%</text>
<text transform="translate(1117.4 370.0) scale(1.0248 1)" font-size="33" font-weight="400" fill="#000" stroke="#000" stroke-width="0.9">no variará</text>
<text transform="translate(1126.2 407.0) scale(1.0658 1)" font-size="33" font-weight="400" fill="#000" stroke="#000" stroke-width="0.9">consumo</text>
<text transform="translate(1466.1 633.0) scale(1.2125 1)" font-size="30" font-weight="400" fill="#fff" stroke="#fff" stroke-width="0.9">El</text>
<text transform="translate(1438.7 679.5) scale(1.2569 1)" font-size="39" font-weight="700" fill="#fff" stroke="#fff" stroke-width="0.3">60%</text>
<text transform="translate(1661.6 633.0) scale(1.2169 1)" font-size="30" font-weight="400" fill="#000" stroke="#000" stroke-width="0.9">El</text>
<text transform="translate(1633.8 679.5) scale(1.1587 1)" font-size="39" font-weight="700" fill="#000" stroke="#000" stroke-width="0.3">24%</text>
<text transform="translate(1856.6 633.0) scale(1.2169 1)" font-size="30" font-weight="400" fill="#000" stroke="#000" stroke-width="0.9">El</text>
<text transform="translate(1832.4 679.5) scale(1.0746 1)" font-size="39" font-weight="700" fill="#000" stroke="#000" stroke-width="0.3">16%</text>
<text transform="translate(1411.5 761.2) scale(1.0505 1)" font-size="35.5" font-weight="400" fill="#000" stroke="#000" stroke-width="0.9">reducirá</text>
<text transform="translate(1412.5 801.0) scale(1.0639 1)" font-size="35.5" font-weight="400" fill="#000" stroke="#000" stroke-width="0.9">consumo</text>
<text transform="translate(1610.0 765.0) scale(1.0314 1)" font-size="33" font-weight="400" fill="#000" stroke="#000" stroke-width="0.9">dejará de</text>
<text transform="translate(1610.0 802.0) scale(1.0385 1)" font-size="33" font-weight="400" fill="#000" stroke="#000" stroke-width="0.9">consumir</text>
<text transform="translate(1805.4 765.0) scale(1.0317 1)" font-size="33" font-weight="400" fill="#000" stroke="#000" stroke-width="0.9">no variará</text>
<text transform="translate(1813.9 802.0) scale(1.0604 1)" font-size="33" font-weight="400" fill="#000" stroke="#000" stroke-width="0.9">consumo</text>
<text transform="translate(42.5 1112.8) scale(1.1430 1)" font-size="30" font-weight="400" fill="#fff" stroke="#fff" stroke-width="0.9">El</text>
<text transform="translate(80.1 1112.8) scale(1.1509 1)" font-size="39.5" font-weight="700" fill="#fff" stroke="#fff" stroke-width="0.3">62%</text>
<text transform="translate(36.3 1152.8) scale(1.0371 1)" font-size="35.5" font-weight="400" fill="#fff" stroke="#fff" stroke-width="0.9">reducirá</text>
<text transform="translate(30.9 1192.8) scale(1.0611 1)" font-size="35.5" font-weight="400" fill="#fff" stroke="#fff" stroke-width="0.9">consumo</text>
<text transform="translate(252.1 1091.0) scale(1.1430 1)" font-size="30" font-weight="400" fill="#000" stroke="#000" stroke-width="0.9">El</text>
<text transform="translate(289.8 1091.0) scale(1.1304 1)" font-size="39.5" font-weight="700" fill="#000" stroke="#000" stroke-width="0.3">23%</text>
<text transform="translate(242.8 1127.0) scale(1.0366 1)" font-size="33" font-weight="400" fill="#000" stroke="#000" stroke-width="0.9">dejará de</text>
<text transform="translate(247.0 1164.6) scale(1.0461 1)" font-size="33" font-weight="400" fill="#000" stroke="#000" stroke-width="0.9">consumir</text>
<text transform="translate(447.3 1127.0) scale(1.1430 1)" font-size="30" font-weight="400" fill="#000" stroke="#000" stroke-width="0.9">El</text>
<text transform="translate(484.1 1127.0) scale(1.0229 1)" font-size="39.5" font-weight="700" fill="#000" stroke="#000" stroke-width="0.3">15%</text>
<text transform="translate(430.0 1164.0) scale(1.0234 1)" font-size="33" font-weight="400" fill="#000" stroke="#000" stroke-width="0.9">no variará</text>
<text transform="translate(438.9 1200.8) scale(1.0627 1)" font-size="33" font-weight="400" fill="#000" stroke="#000" stroke-width="0.9">consumo</text>
<text transform="translate(746.0 1184.3) scale(1.1430 1)" font-size="30" font-weight="400" fill="#fff" stroke="#fff" stroke-width="0.9">El</text>
<text transform="translate(783.7 1184.3) scale(1.1278 1)" font-size="39.5" font-weight="700" fill="#fff" stroke="#fff" stroke-width="0.3">70%</text>
<text transform="translate(739.9 1224.3) scale(1.0276 1)" font-size="35.5" font-weight="400" fill="#fff" stroke="#fff" stroke-width="0.9">reducirá</text>
<text transform="translate(733.6 1264.0) scale(1.0632 1)" font-size="35.5" font-weight="400" fill="#fff" stroke="#fff" stroke-width="0.9">consumo</text>
<text transform="translate(959.2 1087.6) scale(1.1430 1)" font-size="30" font-weight="400" fill="#000" stroke="#000" stroke-width="0.9">El</text>
<text transform="translate(996.0 1087.6) scale(1.0008 1)" font-size="39.5" font-weight="700" fill="#000" stroke="#000" stroke-width="0.3">17%</text>
<text transform="translate(944.0 1124.4) scale(1.0262 1)" font-size="33" font-weight="400" fill="#000" stroke="#000" stroke-width="0.9">dejará de</text>
<text transform="translate(948.0 1161.6) scale(1.0423 1)" font-size="33" font-weight="400" fill="#000" stroke="#000" stroke-width="0.9">consumir</text>
<text transform="translate(1131.7 1233.7) scale(1.1430 1)" font-size="30" font-weight="400" fill="#000" stroke="#000" stroke-width="0.9">El</text>
<text transform="translate(1168.4 1233.7) scale(1.0632 1)" font-size="39.5" font-weight="700" fill="#000" stroke="#000" stroke-width="0.3">14%</text>
<text transform="translate(1118.0 1270.3) scale(1.0179 1)" font-size="33" font-weight="400" fill="#000" stroke="#000" stroke-width="0.9">no variará</text>
<text transform="translate(1127.4 1307.0) scale(1.0528 1)" font-size="33" font-weight="400" fill="#000" stroke="#000" stroke-width="0.9">consumo</text>
<text transform="translate(1407.5 1185.0) scale(1.1430 1)" font-size="30" font-weight="400" fill="#fff" stroke="#fff" stroke-width="0.9">El</text>
<text transform="translate(1445.2 1185.0) scale(1.1240 1)" font-size="39.5" font-weight="700" fill="#fff" stroke="#fff" stroke-width="0.3">55%</text>
<text transform="translate(1398.9 1224.3) scale(1.0434 1)" font-size="35.5" font-weight="400" fill="#fff" stroke="#fff" stroke-width="0.9">reducirá</text>
<text transform="translate(1393.9 1264.0) scale(1.0710 1)" font-size="35.5" font-weight="400" fill="#fff" stroke="#fff" stroke-width="0.9">consumo</text>
<text transform="translate(1616.7 1083.5) scale(1.1430 1)" font-size="30" font-weight="400" fill="#000" stroke="#000" stroke-width="0.9">El</text>
<text transform="translate(1655.5 1083.5) scale(1.0059 1)" font-size="39.5" font-weight="700" fill="#000" stroke="#000" stroke-width="0.3">31%</text>
<text transform="translate(1603.0 1119.7) scale(1.0373 1)" font-size="33" font-weight="400" fill="#000" stroke="#000" stroke-width="0.9">dejará de</text>
<text transform="translate(1606.2 1156.6) scale(1.0589 1)" font-size="33" font-weight="400" fill="#000" stroke="#000" stroke-width="0.9">consumir</text>
<text transform="translate(1823.3 1206.3) scale(1.1430 1)" font-size="30" font-weight="400" fill="#000" stroke="#000" stroke-width="0.9">El</text>
<text transform="translate(1860.0 1206.3) scale(1.0684 1)" font-size="39.5" font-weight="700" fill="#000" stroke="#000" stroke-width="0.3">14%</text>
<text transform="translate(1808.4 1243.2) scale(1.0186 1)" font-size="33" font-weight="400" fill="#000" stroke="#000" stroke-width="0.9">no variará</text>
<text transform="translate(1817.2 1279.7) scale(1.0658 1)" font-size="33" font-weight="400" fill="#000" stroke="#000" stroke-width="0.9">consumo</text>
<text transform="translate(31.0 1653.0) scale(1.0000 1)" font-size="30" font-weight="700" fill="#000" stroke="#000" stroke-width="0.4">FUENTE:</text>
<text transform="translate(167.0 1653.0) scale(1.0585 1)" font-size="30" font-weight="400" fill="#000" stroke="#000" stroke-width="0.7">Axer Consultores</text>
</g>
</svg>
</body>
</html>
